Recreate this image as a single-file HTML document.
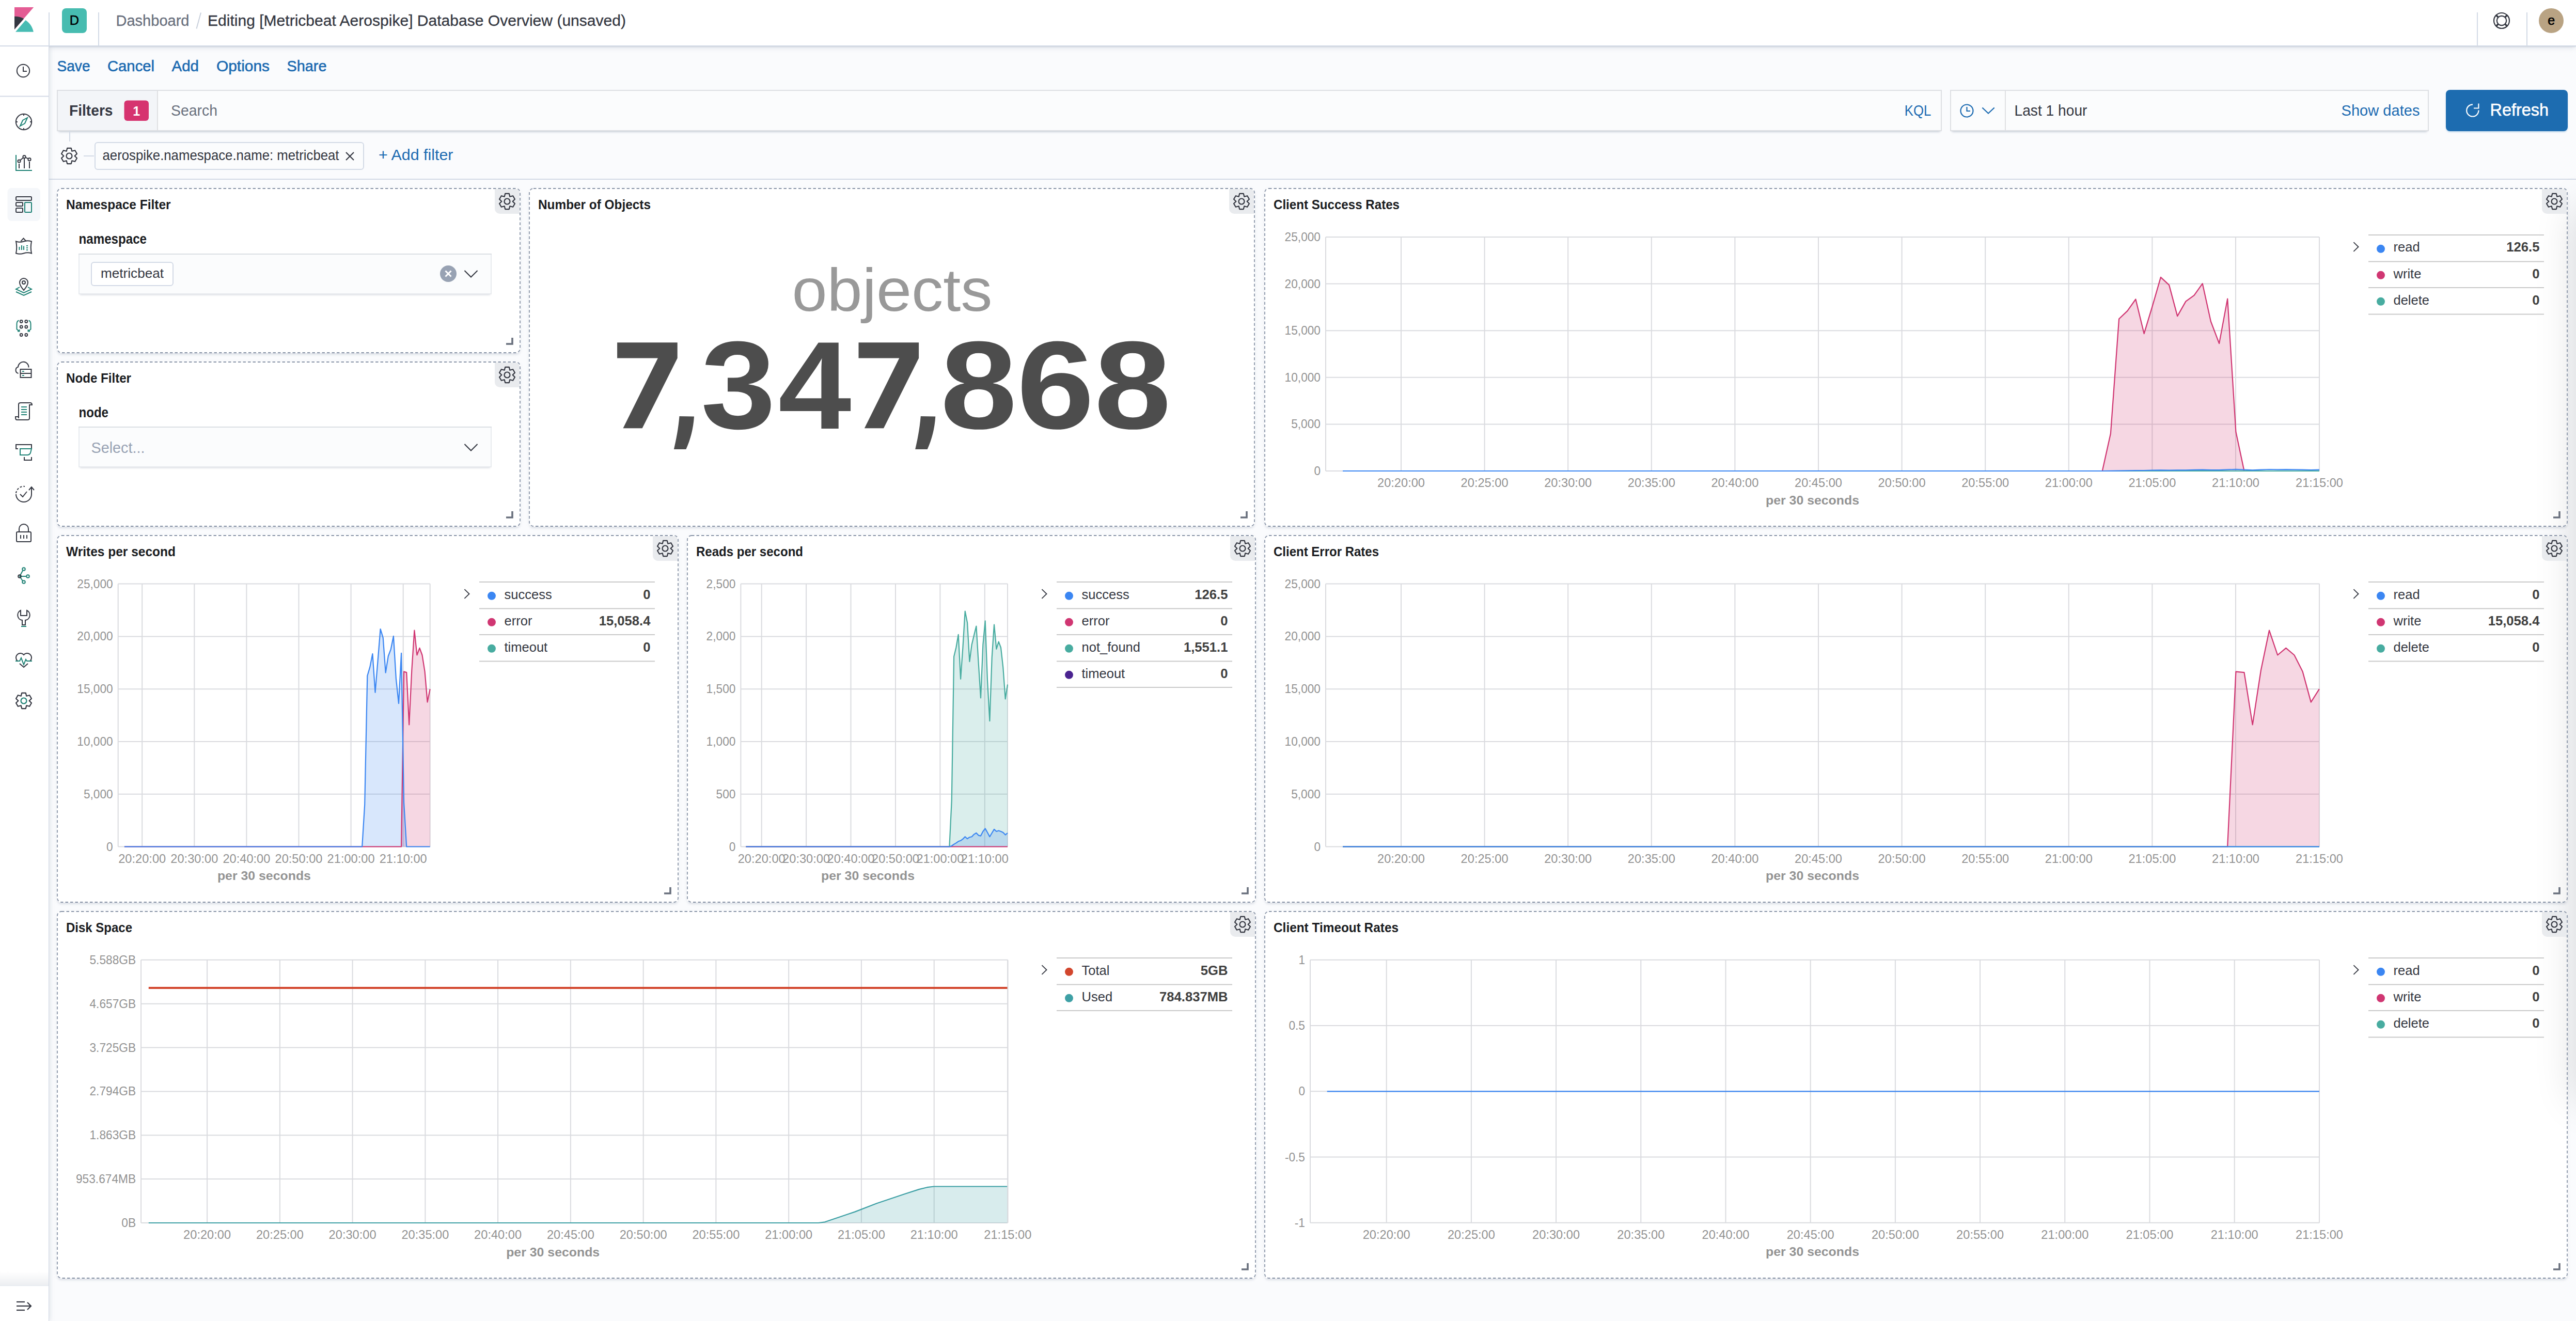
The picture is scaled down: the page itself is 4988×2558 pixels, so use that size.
<!DOCTYPE html>
<html><head><meta charset="utf-8"><title>Kibana Dashboard</title>
<style>
html,body{margin:0;padding:0;}
body{width:4988px;height:2558px;overflow:hidden;position:relative;background:#FAFBFD;font-family:"Liberation Sans", sans-serif;}
svg text{font-family:"Liberation Sans", sans-serif;}
</style></head><body>
<div style="position:absolute;left:0px;top:0px;width:4988px;height:88px;background:#fff;border-bottom:2px solid #D3DAE6;box-shadow:0 2px 2px -1px rgba(152,162,179,0.35),0 4px 10px -2px rgba(152,162,179,0.3);z-index:2"></div><div style="position:absolute;left:0px;top:90px;width:94px;height:2468px;background:#fff;border-right:1px solid #D3DAE6;box-shadow:2px 0 8px rgba(152,162,179,0.25);z-index:3;clip-path:inset(0 -30px 0 0)"></div><div style="position:absolute;left:95px;top:346px;width:4893px;height:2px;background:#D3DAE6"></div><div style="position:absolute;left:110px;top:174px;width:3650px;height:80px;background:#FBFCFD;box-shadow:inset 0 0 0 2px rgba(10,15,40,0.12),0 2px 2px -2px rgba(152,162,179,0.4),0 6px 4px -4px rgba(152,162,179,0.4)"></div><div style="position:absolute;left:112px;top:176px;width:192px;height:76px;background:#F3F5F8;border-right:2px solid #DFE0E3"></div><div style="position:absolute;left:3776px;top:174px;width:927px;height:80px;background:#FBFCFD;box-shadow:inset 0 0 0 2px rgba(10,15,40,0.12),0 2px 2px -2px rgba(152,162,179,0.4),0 6px 4px -4px rgba(152,162,179,0.4)"></div><div style="position:absolute;left:3778px;top:176px;width:104px;height:76px;background:#FBFCFD;border-right:2px solid #DFE0E3"></div><div style="position:absolute;left:4736px;top:174px;width:236px;height:80px;background:#1D6CB0;border-radius:8px;box-shadow:0 2px 3px rgba(0,107,180,0.2)"></div><div style="position:absolute;left:183px;top:275px;width:522px;height:54px;background:#FBFCFD;border:2px solid #D3DAE6;border-radius:6px;box-sizing:border-box"></div><div style="position:absolute;left:110px;top:364px;width:898px;height:320px;background:#fff;border-radius:8px;box-shadow:0 4px 4px -2px rgba(152,162,179,0.3),0 2px 10px -4px rgba(152,162,179,0.3)"></div><div style="position:absolute;left:110px;top:700px;width:898px;height:320px;background:#fff;border-radius:8px;box-shadow:0 4px 4px -2px rgba(152,162,179,0.3),0 2px 10px -4px rgba(152,162,179,0.3)"></div><div style="position:absolute;left:1024px;top:364px;width:1406px;height:656px;background:#fff;border-radius:8px;box-shadow:0 4px 4px -2px rgba(152,162,179,0.3),0 2px 10px -4px rgba(152,162,179,0.3)"></div><div style="position:absolute;left:2448px;top:364px;width:2524px;height:656px;background:#fff;border-radius:8px;box-shadow:0 4px 4px -2px rgba(152,162,179,0.3),0 2px 10px -4px rgba(152,162,179,0.3)"></div><div style="position:absolute;left:110px;top:1036px;width:1204px;height:712px;background:#fff;border-radius:8px;box-shadow:0 4px 4px -2px rgba(152,162,179,0.3),0 2px 10px -4px rgba(152,162,179,0.3)"></div><div style="position:absolute;left:1330px;top:1036px;width:1102px;height:712px;background:#fff;border-radius:8px;box-shadow:0 4px 4px -2px rgba(152,162,179,0.3),0 2px 10px -4px rgba(152,162,179,0.3)"></div><div style="position:absolute;left:2448px;top:1036px;width:2524px;height:712px;background:#fff;border-radius:8px;box-shadow:0 4px 4px -2px rgba(152,162,179,0.3),0 2px 10px -4px rgba(152,162,179,0.3)"></div><div style="position:absolute;left:110px;top:1764px;width:2322px;height:712px;background:#fff;border-radius:8px;box-shadow:0 4px 4px -2px rgba(152,162,179,0.3),0 2px 10px -4px rgba(152,162,179,0.3)"></div><div style="position:absolute;left:2448px;top:1764px;width:2524px;height:712px;background:#fff;border-radius:8px;box-shadow:0 4px 4px -2px rgba(152,162,179,0.3),0 2px 10px -4px rgba(152,162,179,0.3)"></div><div style="position:absolute;left:152px;top:491px;width:800px;height:79px;background:#FBFCFD;box-shadow:inset 0 2px 0 0 rgba(15,35,75,0.06),inset 0 0 0 2px rgba(15,35,75,0.08),0 4px 3px -3px rgba(152,162,179,0.45)"></div><div style="position:absolute;left:176px;top:507px;width:160px;height:47px;background:#fff;border:2px solid #D3DAE6;border-radius:6px;box-sizing:border-box;z-index:3"></div><div style="position:absolute;left:152px;top:826px;width:800px;height:79px;background:#FBFCFD;box-shadow:inset 0 2px 0 0 rgba(15,35,75,0.06),inset 0 0 0 2px rgba(15,35,75,0.08),0 4px 3px -3px rgba(152,162,179,0.45)"></div><div style="position:absolute;left:0px;top:2462px;width:94px;height:27px;background:linear-gradient(to bottom, rgba(152,162,179,0), rgba(152,162,179,0.18));z-index:3"></div><div style="position:absolute;left:4988px;top:405px;width:200px;height:1725px;box-shadow:0 0 80px rgba(0,0,0,0.15);z-index:5"></div>
<svg width="4988" height="2558" viewBox="0 0 4988 2558" style="position:absolute;left:0;top:0;z-index:10">
<line x1="95.0" y1="24.0" x2="95.0" y2="88.0" stroke="#D3DAE6" stroke-width="2" />
<line x1="191.0" y1="24.0" x2="191.0" y2="88.0" stroke="#D3DAE6" stroke-width="2" />
<line x1="4797.0" y1="24.0" x2="4797.0" y2="88.0" stroke="#D3DAE6" stroke-width="2" />
<line x1="4893.0" y1="24.0" x2="4893.0" y2="88.0" stroke="#D3DAE6" stroke-width="2" />
<path d="M28,14 L65.2,14 L28,57 Z" fill="#E45C94"/>
<path d="M28,31.8 C35,31.8 41,33.2 46.2,36.2 L28,57 Z" fill="#343741"/>
<path d="M30,61.8 L49.6,39 C57.5,44.5 63,52 64.8,61.8 Z" fill="#47BCB3"/>
<rect x="120.0" y="16.0" width="48.0" height="48.0" rx="8" fill="#47BCB0" />
<text x="144.0" y="47.8" font-size="25.3" fill="#000" text-anchor="middle" stroke="#000" stroke-width="0.5">D</text>
<text x="224.5" y="49.6" font-size="30.3" fill="#69707D" textLength="142.0" lengthAdjust="spacingAndGlyphs" stroke="#69707D" stroke-width="0.3">Dashboard</text>
<line x1="389.0" y1="24.5" x2="380.5" y2="55.5" stroke="#C9D0DC" stroke-width="2" />
<text x="402.0" y="49.6" font-size="30.3" fill="#343741" textLength="810.0" lengthAdjust="spacingAndGlyphs" stroke="#343741" stroke-width="0.3">Editing [Metricbeat Aerospike] Database Overview (unsaved)</text>
<g transform="translate(4844,40)" fill="none" stroke="#343741" stroke-width="2.2"><circle r="15"/><circle r="9.2"/><g stroke-width="3.4"><line x1="-10.6" y1="-10.6" x2="-6.5" y2="-6.5"/><line x1="10.6" y1="-10.6" x2="6.5" y2="-6.5"/><line x1="-10.6" y1="10.6" x2="-6.5" y2="6.5"/><line x1="10.6" y1="10.6" x2="6.5" y2="6.5"/></g></g>
<circle cx="4940" cy="40" r="24" fill="#B9A383"/>
<text x="4940.3" y="47.8" font-size="25" fill="#000" text-anchor="middle" stroke="#000" stroke-width="0.7">e</text>
<text x="110.5" y="137.5" font-size="30" fill="#1B6AB1" textLength="64.0" lengthAdjust="spacingAndGlyphs" stroke="#1B6AB1" stroke-width="0.6">Save</text>
<text x="208.0" y="137.5" font-size="30" fill="#1B6AB1" textLength="91.0" lengthAdjust="spacingAndGlyphs" stroke="#1B6AB1" stroke-width="0.6">Cancel</text>
<text x="332.5" y="137.5" font-size="30" fill="#1B6AB1" textLength="52.5" lengthAdjust="spacingAndGlyphs" stroke="#1B6AB1" stroke-width="0.6">Add</text>
<text x="419.0" y="137.5" font-size="30" fill="#1B6AB1" textLength="103.0" lengthAdjust="spacingAndGlyphs" stroke="#1B6AB1" stroke-width="0.6">Options</text>
<text x="555.5" y="137.5" font-size="30" fill="#1B6AB1" textLength="77.0" lengthAdjust="spacingAndGlyphs" stroke="#1B6AB1" stroke-width="0.6">Share</text>
<text x="134.0" y="223.9" font-size="29.9" fill="#343741" font-weight="bold" textLength="84.5" lengthAdjust="spacingAndGlyphs">Filters</text>
<rect x="240.5" y="194.5" width="47.5" height="39.5" rx="6" fill="#D6336F" />
<text x="264.2" y="224.0" font-size="25" fill="#fff" font-weight="bold" text-anchor="middle">1</text>
<text x="331.0" y="223.9" font-size="29.9" fill="#69707D" textLength="90.0" lengthAdjust="spacingAndGlyphs">Search</text>
<text x="3687.8" y="223.9" font-size="29.9" fill="#1B6AB1" textLength="51.5" lengthAdjust="spacingAndGlyphs">KQL</text>
<g fill="none" stroke="#1B6AB1" stroke-width="2.2"><circle cx="3808.5" cy="214.5" r="12"/><polyline points="3808.5,207 3808.5,215 3815,215"/><polyline points="3838.4,208.5 3850,219.5 3861.7,208.5"/></g>
<text x="3900.5" y="223.9" font-size="29.9" fill="#343741" textLength="141.0" lengthAdjust="spacingAndGlyphs">Last 1 hour</text>
<text x="4685.5" y="223.9" font-size="29.9" fill="#1B6AB1" text-anchor="end" textLength="152.0" lengthAdjust="spacingAndGlyphs">Show dates</text>
<g fill="none" stroke="#fff" stroke-width="2.2"><path d="M4788,202.3 A11.6,11.6 0 1,0 4799.4,213.5"/><polyline points="4790,209.5 4799.4,209.5 4799.4,200.4"/></g>
<text x="4821.5" y="223.8" font-size="33.7" fill="#fff" textLength="113.5" lengthAdjust="spacingAndGlyphs" stroke="#fff" stroke-width="0.6">Refresh</text>
<line x1="135.0" y1="253.0" x2="135.0" y2="274.0" stroke="#D3DAE6" stroke-width="2" />
<line x1="162.0" y1="302.0" x2="182.0" y2="302.0" stroke="#D3DAE6" stroke-width="2" />
<path d="M130.2,286.9 L137.8,286.9 L139.3,292.8 L145.2,291.2 L149.0,297.7 L144.6,302.0 L149.0,306.3 L145.2,312.8 L139.3,311.2 L137.8,317.1 L130.2,317.1 L128.7,311.2 L122.8,312.8 L119.0,306.3 L123.4,302.0 L119.0,297.7 L122.8,291.2 L128.7,292.8 Z" fill="none" stroke="#343741" stroke-width="2.2" stroke-linejoin="round"/>
<circle cx="134" cy="302" r="5.5" fill="none" stroke="#343741" stroke-width="2.2"/>
<text x="198.5" y="310.0" font-size="28" fill="#343741" textLength="458.0" lengthAdjust="spacingAndGlyphs">aerospike.namespace.name: metricbeat</text>
<g stroke="#343741" stroke-width="2.2"><line x1="670" y1="295" x2="685" y2="310"/><line x1="685" y1="295" x2="670" y2="310"/></g>
<text x="733.0" y="309.8" font-size="29.9" fill="#1B6AB1" textLength="144.5" lengthAdjust="spacingAndGlyphs">+ Add filter</text>
<rect x="111" y="365" width="896" height="318" rx="8" fill="none" stroke="#8A95A8" stroke-width="1.8" stroke-dasharray="5.5 4"/>
<path d="M958,366 H998 A8,8 0 0 1 1006,374 V414 H968 A10,10 0 0 1 958,404 Z" fill="#E9EBEE"/>
<path d="M978.2,374.9 L985.8,374.9 L987.3,380.8 L993.2,379.2 L997.0,385.7 L992.6,390.0 L997.0,394.3 L993.2,400.8 L987.3,399.2 L985.8,405.1 L978.2,405.1 L976.7,399.2 L970.8,400.8 L967.0,394.3 L971.4,390.0 L967.0,385.7 L970.8,379.2 L976.7,380.8 Z" fill="none" stroke="#343741" stroke-width="2.2" stroke-linejoin="round"/>
<circle cx="982" cy="390" r="5.5" fill="none" stroke="#343741" stroke-width="2.2"/>
<text x="128.0" y="404.5" font-size="26.7" fill="#1A1C21" font-weight="bold" textLength="202.5" lengthAdjust="spacingAndGlyphs">Namespace Filter</text>
<path d="M980,666 H992 V654" fill="none" stroke="#69707D" stroke-width="3.6"/>
<rect x="111" y="701" width="896" height="318" rx="8" fill="none" stroke="#8A95A8" stroke-width="1.8" stroke-dasharray="5.5 4"/>
<path d="M958,702 H998 A8,8 0 0 1 1006,710 V750 H968 A10,10 0 0 1 958,740 Z" fill="#E9EBEE"/>
<path d="M978.2,710.9 L985.8,710.9 L987.3,716.8 L993.2,715.2 L997.0,721.7 L992.6,726.0 L997.0,730.3 L993.2,736.8 L987.3,735.2 L985.8,741.1 L978.2,741.1 L976.7,735.2 L970.8,736.8 L967.0,730.3 L971.4,726.0 L967.0,721.7 L970.8,715.2 L976.7,716.8 Z" fill="none" stroke="#343741" stroke-width="2.2" stroke-linejoin="round"/>
<circle cx="982" cy="726" r="5.5" fill="none" stroke="#343741" stroke-width="2.2"/>
<text x="128.0" y="740.5" font-size="26.7" fill="#1A1C21" font-weight="bold" textLength="126.0" lengthAdjust="spacingAndGlyphs">Node Filter</text>
<path d="M980,1002 H992 V990" fill="none" stroke="#69707D" stroke-width="3.6"/>
<rect x="1025" y="365" width="1404" height="654" rx="8" fill="none" stroke="#8A95A8" stroke-width="1.8" stroke-dasharray="5.5 4"/>
<path d="M2380,366 H2420 A8,8 0 0 1 2428,374 V414 H2390 A10,10 0 0 1 2380,404 Z" fill="#E9EBEE"/>
<path d="M2400.2,374.9 L2407.8,374.9 L2409.3,380.8 L2415.2,379.2 L2419.0,385.7 L2414.6,390.0 L2419.0,394.3 L2415.2,400.8 L2409.3,399.2 L2407.8,405.1 L2400.2,405.1 L2398.7,399.2 L2392.8,400.8 L2389.0,394.3 L2393.4,390.0 L2389.0,385.7 L2392.8,379.2 L2398.7,380.8 Z" fill="none" stroke="#343741" stroke-width="2.2" stroke-linejoin="round"/>
<circle cx="2404" cy="390" r="5.5" fill="none" stroke="#343741" stroke-width="2.2"/>
<text x="1042.0" y="404.5" font-size="26.7" fill="#1A1C21" font-weight="bold" textLength="218.0" lengthAdjust="spacingAndGlyphs">Number of Objects</text>
<path d="M2402,1002 H2414 V990" fill="none" stroke="#69707D" stroke-width="3.6"/>
<rect x="2449" y="365" width="2522" height="654" rx="8" fill="none" stroke="#8A95A8" stroke-width="1.8" stroke-dasharray="5.5 4"/>
<path d="M4922,366 H4962 A8,8 0 0 1 4970,374 V414 H4932 A10,10 0 0 1 4922,404 Z" fill="#E9EBEE"/>
<path d="M4942.2,374.9 L4949.8,374.9 L4951.3,380.8 L4957.2,379.2 L4961.0,385.7 L4956.6,390.0 L4961.0,394.3 L4957.2,400.8 L4951.3,399.2 L4949.8,405.1 L4942.2,405.1 L4940.7,399.2 L4934.8,400.8 L4931.0,394.3 L4935.4,390.0 L4931.0,385.7 L4934.8,379.2 L4940.7,380.8 Z" fill="none" stroke="#343741" stroke-width="2.2" stroke-linejoin="round"/>
<circle cx="4946" cy="390" r="5.5" fill="none" stroke="#343741" stroke-width="2.2"/>
<text x="2466.0" y="404.5" font-size="26.7" fill="#1A1C21" font-weight="bold" textLength="244.0" lengthAdjust="spacingAndGlyphs">Client Success Rates</text>
<path d="M4944,1002 H4956 V990" fill="none" stroke="#69707D" stroke-width="3.6"/>
<rect x="111" y="1037" width="1202" height="710" rx="8" fill="none" stroke="#8A95A8" stroke-width="1.8" stroke-dasharray="5.5 4"/>
<path d="M1264,1038 H1304 A8,8 0 0 1 1312,1046 V1086 H1274 A10,10 0 0 1 1264,1076 Z" fill="#E9EBEE"/>
<path d="M1284.2,1046.9 L1291.8,1046.9 L1293.3,1052.8 L1299.2,1051.2 L1303.0,1057.7 L1298.6,1062.0 L1303.0,1066.3 L1299.2,1072.8 L1293.3,1071.2 L1291.8,1077.1 L1284.2,1077.1 L1282.7,1071.2 L1276.8,1072.8 L1273.0,1066.3 L1277.4,1062.0 L1273.0,1057.7 L1276.8,1051.2 L1282.7,1052.8 Z" fill="none" stroke="#343741" stroke-width="2.2" stroke-linejoin="round"/>
<circle cx="1288" cy="1062" r="5.5" fill="none" stroke="#343741" stroke-width="2.2"/>
<text x="128.0" y="1076.5" font-size="26.7" fill="#1A1C21" font-weight="bold" textLength="212.0" lengthAdjust="spacingAndGlyphs">Writes per second</text>
<path d="M1286,1730 H1298 V1718" fill="none" stroke="#69707D" stroke-width="3.6"/>
<rect x="1331" y="1037" width="1100" height="710" rx="8" fill="none" stroke="#8A95A8" stroke-width="1.8" stroke-dasharray="5.5 4"/>
<path d="M2382,1038 H2422 A8,8 0 0 1 2430,1046 V1086 H2392 A10,10 0 0 1 2382,1076 Z" fill="#E9EBEE"/>
<path d="M2402.2,1046.9 L2409.8,1046.9 L2411.3,1052.8 L2417.2,1051.2 L2421.0,1057.7 L2416.6,1062.0 L2421.0,1066.3 L2417.2,1072.8 L2411.3,1071.2 L2409.8,1077.1 L2402.2,1077.1 L2400.7,1071.2 L2394.8,1072.8 L2391.0,1066.3 L2395.4,1062.0 L2391.0,1057.7 L2394.8,1051.2 L2400.7,1052.8 Z" fill="none" stroke="#343741" stroke-width="2.2" stroke-linejoin="round"/>
<circle cx="2406" cy="1062" r="5.5" fill="none" stroke="#343741" stroke-width="2.2"/>
<text x="1348.0" y="1076.5" font-size="26.7" fill="#1A1C21" font-weight="bold" textLength="207.0" lengthAdjust="spacingAndGlyphs">Reads per second</text>
<path d="M2404,1730 H2416 V1718" fill="none" stroke="#69707D" stroke-width="3.6"/>
<rect x="2449" y="1037" width="2522" height="710" rx="8" fill="none" stroke="#8A95A8" stroke-width="1.8" stroke-dasharray="5.5 4"/>
<path d="M4922,1038 H4962 A8,8 0 0 1 4970,1046 V1086 H4932 A10,10 0 0 1 4922,1076 Z" fill="#E9EBEE"/>
<path d="M4942.2,1046.9 L4949.8,1046.9 L4951.3,1052.8 L4957.2,1051.2 L4961.0,1057.7 L4956.6,1062.0 L4961.0,1066.3 L4957.2,1072.8 L4951.3,1071.2 L4949.8,1077.1 L4942.2,1077.1 L4940.7,1071.2 L4934.8,1072.8 L4931.0,1066.3 L4935.4,1062.0 L4931.0,1057.7 L4934.8,1051.2 L4940.7,1052.8 Z" fill="none" stroke="#343741" stroke-width="2.2" stroke-linejoin="round"/>
<circle cx="4946" cy="1062" r="5.5" fill="none" stroke="#343741" stroke-width="2.2"/>
<text x="2466.0" y="1076.5" font-size="26.7" fill="#1A1C21" font-weight="bold" textLength="204.0" lengthAdjust="spacingAndGlyphs">Client Error Rates</text>
<path d="M4944,1730 H4956 V1718" fill="none" stroke="#69707D" stroke-width="3.6"/>
<rect x="111" y="1765" width="2320" height="710" rx="8" fill="none" stroke="#8A95A8" stroke-width="1.8" stroke-dasharray="5.5 4"/>
<path d="M2382,1766 H2422 A8,8 0 0 1 2430,1774 V1814 H2392 A10,10 0 0 1 2382,1804 Z" fill="#E9EBEE"/>
<path d="M2402.2,1774.9 L2409.8,1774.9 L2411.3,1780.8 L2417.2,1779.2 L2421.0,1785.7 L2416.6,1790.0 L2421.0,1794.3 L2417.2,1800.8 L2411.3,1799.2 L2409.8,1805.1 L2402.2,1805.1 L2400.7,1799.2 L2394.8,1800.8 L2391.0,1794.3 L2395.4,1790.0 L2391.0,1785.7 L2394.8,1779.2 L2400.7,1780.8 Z" fill="none" stroke="#343741" stroke-width="2.2" stroke-linejoin="round"/>
<circle cx="2406" cy="1790" r="5.5" fill="none" stroke="#343741" stroke-width="2.2"/>
<text x="128.0" y="1804.5" font-size="26.7" fill="#1A1C21" font-weight="bold" textLength="128.0" lengthAdjust="spacingAndGlyphs">Disk Space</text>
<path d="M2404,2458 H2416 V2446" fill="none" stroke="#69707D" stroke-width="3.6"/>
<rect x="2449" y="1765" width="2522" height="710" rx="8" fill="none" stroke="#8A95A8" stroke-width="1.8" stroke-dasharray="5.5 4"/>
<path d="M4922,1766 H4962 A8,8 0 0 1 4970,1774 V1814 H4932 A10,10 0 0 1 4922,1804 Z" fill="#E9EBEE"/>
<path d="M4942.2,1774.9 L4949.8,1774.9 L4951.3,1780.8 L4957.2,1779.2 L4961.0,1785.7 L4956.6,1790.0 L4961.0,1794.3 L4957.2,1800.8 L4951.3,1799.2 L4949.8,1805.1 L4942.2,1805.1 L4940.7,1799.2 L4934.8,1800.8 L4931.0,1794.3 L4935.4,1790.0 L4931.0,1785.7 L4934.8,1779.2 L4940.7,1780.8 Z" fill="none" stroke="#343741" stroke-width="2.2" stroke-linejoin="round"/>
<circle cx="4946" cy="1790" r="5.5" fill="none" stroke="#343741" stroke-width="2.2"/>
<text x="2466.0" y="1804.5" font-size="26.7" fill="#1A1C21" font-weight="bold" textLength="242.0" lengthAdjust="spacingAndGlyphs">Client Timeout Rates</text>
<path d="M4944,2458 H4956 V2446" fill="none" stroke="#69707D" stroke-width="3.6"/>
<text x="152.5" y="472.0" font-size="27" fill="#1A1C21" font-weight="bold" textLength="131.5" lengthAdjust="spacingAndGlyphs">namespace</text>
<text x="195.0" y="538.0" font-size="26" fill="#343741" textLength="122.0" lengthAdjust="spacingAndGlyphs">metricbeat</text>
<circle cx="868" cy="530" r="16" fill="#98A2B3"/>
<g stroke="#fff" stroke-width="3"><line x1="862.5" y1="524.5" x2="873.5" y2="535.5"/><line x1="873.5" y1="524.5" x2="862.5" y2="535.5"/></g>
<polyline points="899.5,524.0 912.0,536.5 924.5,524.0" fill="none" stroke="#343741" stroke-width="2.1"/>
<text x="152.5" y="808.0" font-size="27" fill="#1A1C21" font-weight="bold" textLength="57.5" lengthAdjust="spacingAndGlyphs">node</text>
<text x="176.5" y="876.5" font-size="29" fill="#98A2B3" textLength="104.0" lengthAdjust="spacingAndGlyphs">Select...</text>
<polyline points="899.5,860.0 912.0,872.5 924.5,860.0" fill="none" stroke="#343741" stroke-width="2.1"/>
<text x="1727.5" y="602.3" font-size="116" fill="#999999" text-anchor="middle" textLength="388.0" lengthAdjust="spacingAndGlyphs">objects</text>
<text transform="translate(1357.1,829.5) scale(1.0752,1)" font-size="242" font-weight="bold" fill="#4D4D4D">3</text>
<text transform="translate(1507.0,829.5) scale(1.0509,1)" font-size="242" font-weight="bold" fill="#4D4D4D">4</text>
<text transform="translate(1821.0,829.5) scale(1.1007,1)" font-size="242" font-weight="bold" fill="#4D4D4D">8</text>
<text transform="translate(1968.7,829.5) scale(1.1150,1)" font-size="242" font-weight="bold" fill="#4D4D4D">6</text>
<text transform="translate(2118.9,829.5) scale(1.1041,1)" font-size="242" font-weight="bold" fill="#4D4D4D">8</text>
<path transform="translate(0,0)" d="M1195.1,663.2 L1311.7,663.2 L1311.7,693.5 L1243.6,829.3 L1206.5,829.3 L1273.9,693.5 L1195.1,693.5 Z" fill="#4D4D4D"/>
<path transform="translate(467.4,0)" d="M1195.1,663.2 L1311.7,663.2 L1311.7,693.5 L1243.6,829.3 L1206.5,829.3 L1273.9,693.5 L1195.1,693.5 Z" fill="#4D4D4D"/>
<path transform="translate(0,0)" d="M1315.5,806 L1344,806.5 C1342.5,830 1337,851 1328.4,870.1 L1304.9,870.1 C1309.5,850 1313.5,830 1315.5,806 Z" fill="#4D4D4D"/>
<path transform="translate(467.3,0)" d="M1315.5,806 L1344,806.5 C1342.5,830 1337,851 1328.4,870.1 L1304.9,870.1 C1309.5,850 1313.5,830 1315.5,806 Z" fill="#4D4D4D"/>
<line x1="2567.0" y1="459.0" x2="4491.0" y2="459.0" stroke="#DADBDF" stroke-width="2" />
<line x1="2567.0" y1="549.6" x2="4491.0" y2="549.6" stroke="#DADBDF" stroke-width="2" />
<line x1="2567.0" y1="640.2" x2="4491.0" y2="640.2" stroke="#DADBDF" stroke-width="2" />
<line x1="2567.0" y1="730.8" x2="4491.0" y2="730.8" stroke="#DADBDF" stroke-width="2" />
<line x1="2567.0" y1="821.4" x2="4491.0" y2="821.4" stroke="#DADBDF" stroke-width="2" />
<line x1="2567.0" y1="912.0" x2="4491.0" y2="912.0" stroke="#DADBDF" stroke-width="2" />
<line x1="2713.0" y1="459.0" x2="2713.0" y2="912.0" stroke="#DADBDF" stroke-width="2" />
<line x1="2874.6" y1="459.0" x2="2874.6" y2="912.0" stroke="#DADBDF" stroke-width="2" />
<line x1="3036.2" y1="459.0" x2="3036.2" y2="912.0" stroke="#DADBDF" stroke-width="2" />
<line x1="3197.8" y1="459.0" x2="3197.8" y2="912.0" stroke="#DADBDF" stroke-width="2" />
<line x1="3359.4" y1="459.0" x2="3359.4" y2="912.0" stroke="#DADBDF" stroke-width="2" />
<line x1="3521.0" y1="459.0" x2="3521.0" y2="912.0" stroke="#DADBDF" stroke-width="2" />
<line x1="3682.6" y1="459.0" x2="3682.6" y2="912.0" stroke="#DADBDF" stroke-width="2" />
<line x1="3844.2" y1="459.0" x2="3844.2" y2="912.0" stroke="#DADBDF" stroke-width="2" />
<line x1="4005.8" y1="459.0" x2="4005.8" y2="912.0" stroke="#DADBDF" stroke-width="2" />
<line x1="4167.4" y1="459.0" x2="4167.4" y2="912.0" stroke="#DADBDF" stroke-width="2" />
<line x1="4329.0" y1="459.0" x2="4329.0" y2="912.0" stroke="#DADBDF" stroke-width="2" />
<line x1="4491.0" y1="459.0" x2="4491.0" y2="912.0" stroke="#DADBDF" stroke-width="2" />
<line x1="2567.0" y1="459.0" x2="2567.0" y2="912.0" stroke="#DADBDF" stroke-width="2" />
<line x1="4491.0" y1="459.0" x2="4491.0" y2="912.0" stroke="#DADBDF" stroke-width="2" />
<path d="M2600.0,912.0 L2616.2,912.0 L2632.3,912.0 L2648.5,912.0 L2664.6,912.0 L2680.8,912.0 L2697.0,912.0 L2713.1,912.0 L2729.3,912.0 L2745.5,912.0 L2761.6,912.0 L2777.8,912.0 L2793.9,912.0 L2810.1,912.0 L2826.3,912.0 L2842.4,912.0 L2858.6,912.0 L2874.8,912.0 L2890.9,912.0 L2907.1,912.0 L2923.2,912.0 L2939.4,912.0 L2955.6,912.0 L2971.7,912.0 L2987.9,912.0 L3004.1,912.0 L3020.2,912.0 L3036.4,912.0 L3052.5,912.0 L3068.7,912.0 L3084.9,912.0 L3101.0,912.0 L3117.2,912.0 L3133.4,912.0 L3149.5,912.0 L3165.7,912.0 L3181.8,912.0 L3198.0,912.0 L3214.2,912.0 L3230.3,912.0 L3246.5,912.0 L3262.7,912.0 L3278.8,912.0 L3295.0,912.0 L3311.1,912.0 L3327.3,912.0 L3343.5,912.0 L3359.6,912.0 L3375.8,912.0 L3392.0,912.0 L3408.1,912.0 L3424.3,912.0 L3440.4,912.0 L3456.6,912.0 L3472.8,912.0 L3488.9,912.0 L3505.1,912.0 L3521.3,912.0 L3537.4,912.0 L3553.6,912.0 L3569.7,912.0 L3585.9,912.0 L3602.1,912.0 L3618.2,912.0 L3634.4,912.0 L3650.6,912.0 L3666.7,912.0 L3682.9,912.0 L3699.0,912.0 L3715.2,912.0 L3731.4,912.0 L3747.5,912.0 L3763.7,912.0 L3779.9,912.0 L3796.0,912.0 L3812.2,912.0 L3828.3,912.0 L3844.5,912.0 L3860.7,912.0 L3876.8,912.0 L3893.0,912.0 L3909.2,912.0 L3925.3,912.0 L3941.5,912.0 L3957.6,912.0 L3973.8,912.0 L3990.0,912.0 L4006.1,912.0 L4022.3,912.0 L4038.5,912.0 L4054.6,912.0 L4070.8,912.0 L4086.9,839.5 L4103.1,617.5 L4119.3,602.1 L4135.4,579.5 L4151.6,646.1 L4167.8,592.6 L4183.9,536.9 L4200.1,551.9 L4216.2,612.1 L4232.4,583.6 L4248.6,571.8 L4264.7,549.1 L4280.9,622.5 L4297.1,665.1 L4313.2,578.6 L4329.4,836.3 L4345.5,912.0 L4361.7,912.0 L4377.9,912.0 L4394.0,912.0 L4410.2,912.0 L4426.4,912.0 L4442.5,912.0 L4458.7,912.0 L4474.8,912.0 L4491.0,912.0 L4491.0,912.0 L2600.0,912.0 Z" fill="#D03672" fill-opacity="0.2"/>
<path d="M2600.0,912.0 L2616.2,912.0 L2632.3,912.0 L2648.5,912.0 L2664.6,912.0 L2680.8,912.0 L2697.0,912.0 L2713.1,912.0 L2729.3,912.0 L2745.5,912.0 L2761.6,912.0 L2777.8,912.0 L2793.9,912.0 L2810.1,912.0 L2826.3,912.0 L2842.4,912.0 L2858.6,912.0 L2874.8,912.0 L2890.9,912.0 L2907.1,912.0 L2923.2,912.0 L2939.4,912.0 L2955.6,912.0 L2971.7,912.0 L2987.9,912.0 L3004.1,912.0 L3020.2,912.0 L3036.4,912.0 L3052.5,912.0 L3068.7,912.0 L3084.9,912.0 L3101.0,912.0 L3117.2,912.0 L3133.4,912.0 L3149.5,912.0 L3165.7,912.0 L3181.8,912.0 L3198.0,912.0 L3214.2,912.0 L3230.3,912.0 L3246.5,912.0 L3262.7,912.0 L3278.8,912.0 L3295.0,912.0 L3311.1,912.0 L3327.3,912.0 L3343.5,912.0 L3359.6,912.0 L3375.8,912.0 L3392.0,912.0 L3408.1,912.0 L3424.3,912.0 L3440.4,912.0 L3456.6,912.0 L3472.8,912.0 L3488.9,912.0 L3505.1,912.0 L3521.3,912.0 L3537.4,912.0 L3553.6,912.0 L3569.7,912.0 L3585.9,912.0 L3602.1,912.0 L3618.2,912.0 L3634.4,912.0 L3650.6,912.0 L3666.7,912.0 L3682.9,912.0 L3699.0,912.0 L3715.2,912.0 L3731.4,912.0 L3747.5,912.0 L3763.7,912.0 L3779.9,912.0 L3796.0,912.0 L3812.2,912.0 L3828.3,912.0 L3844.5,912.0 L3860.7,912.0 L3876.8,912.0 L3893.0,912.0 L3909.2,912.0 L3925.3,912.0 L3941.5,912.0 L3957.6,912.0 L3973.8,912.0 L3990.0,912.0 L4006.1,912.0 L4022.3,912.0 L4038.5,912.0 L4054.6,912.0 L4070.8,912.0 L4086.9,839.5 L4103.1,617.5 L4119.3,602.1 L4135.4,579.5 L4151.6,646.1 L4167.8,592.6 L4183.9,536.9 L4200.1,551.9 L4216.2,612.1 L4232.4,583.6 L4248.6,571.8 L4264.7,549.1 L4280.9,622.5 L4297.1,665.1 L4313.2,578.6 L4329.4,836.3 L4345.5,912.0 L4361.7,912.0 L4377.9,912.0 L4394.0,912.0 L4410.2,912.0 L4426.4,912.0 L4442.5,912.0 L4458.7,912.0 L4474.8,912.0 L4491.0,912.0" fill="none" stroke="#D03672" stroke-width="2.2" stroke-linejoin="round"/>
<path d="M2600.0,912.0 L2616.2,912.0 L2632.3,912.0 L2648.5,912.0 L2664.6,912.0 L2680.8,912.0 L2697.0,912.0 L2713.1,912.0 L2729.3,912.0 L2745.5,912.0 L2761.6,912.0 L2777.8,912.0 L2793.9,912.0 L2810.1,912.0 L2826.3,912.0 L2842.4,912.0 L2858.6,912.0 L2874.8,912.0 L2890.9,912.0 L2907.1,912.0 L2923.2,912.0 L2939.4,912.0 L2955.6,912.0 L2971.7,912.0 L2987.9,912.0 L3004.1,912.0 L3020.2,912.0 L3036.4,912.0 L3052.5,912.0 L3068.7,912.0 L3084.9,912.0 L3101.0,912.0 L3117.2,912.0 L3133.4,912.0 L3149.5,912.0 L3165.7,912.0 L3181.8,912.0 L3198.0,912.0 L3214.2,912.0 L3230.3,912.0 L3246.5,912.0 L3262.7,912.0 L3278.8,912.0 L3295.0,912.0 L3311.1,912.0 L3327.3,912.0 L3343.5,912.0 L3359.6,912.0 L3375.8,912.0 L3392.0,912.0 L3408.1,912.0 L3424.3,912.0 L3440.4,912.0 L3456.6,912.0 L3472.8,912.0 L3488.9,912.0 L3505.1,912.0 L3521.3,912.0 L3537.4,912.0 L3553.6,912.0 L3569.7,912.0 L3585.9,912.0 L3602.1,912.0 L3618.2,912.0 L3634.4,912.0 L3650.6,912.0 L3666.7,912.0 L3682.9,912.0 L3699.0,912.0 L3715.2,912.0 L3731.4,912.0 L3747.5,912.0 L3763.7,912.0 L3779.9,912.0 L3796.0,912.0 L3812.2,912.0 L3828.3,912.0 L3844.5,912.0 L3860.7,912.0 L3876.8,912.0 L3893.0,912.0 L3909.2,912.0 L3925.3,912.0 L3941.5,912.0 L3957.6,912.0 L3973.8,912.0 L3990.0,912.0 L4006.1,912.0 L4022.3,912.0 L4038.5,912.0 L4054.6,912.0 L4070.8,912.0 L4086.9,912.0 L4103.1,912.0 L4119.3,912.0 L4135.4,912.0 L4151.6,912.0 L4167.8,912.0 L4183.9,912.0 L4200.1,912.0 L4216.2,912.0 L4232.4,912.0 L4248.6,912.0 L4264.7,912.0 L4280.9,912.0 L4297.1,912.0 L4313.2,912.0 L4329.4,912.0 L4345.5,912.0 L4361.7,912.0 L4377.9,912.0 L4394.0,912.0 L4410.2,912.0 L4426.4,912.0 L4442.5,912.0 L4458.7,912.0 L4474.8,912.0 L4491.0,912.0" fill="none" stroke="#48ACA0" stroke-width="2.2" stroke-linejoin="round"/>
<path d="M2600.0,912.0 L2616.2,912.0 L2632.3,912.0 L2648.5,912.0 L2664.6,912.0 L2680.8,912.0 L2697.0,912.0 L2713.1,912.0 L2729.3,912.0 L2745.5,912.0 L2761.6,912.0 L2777.8,912.0 L2793.9,912.0 L2810.1,912.0 L2826.3,912.0 L2842.4,912.0 L2858.6,912.0 L2874.8,912.0 L2890.9,912.0 L2907.1,912.0 L2923.2,912.0 L2939.4,912.0 L2955.6,912.0 L2971.7,912.0 L2987.9,912.0 L3004.1,912.0 L3020.2,912.0 L3036.4,912.0 L3052.5,912.0 L3068.7,912.0 L3084.9,912.0 L3101.0,912.0 L3117.2,912.0 L3133.4,912.0 L3149.5,912.0 L3165.7,912.0 L3181.8,912.0 L3198.0,912.0 L3214.2,912.0 L3230.3,912.0 L3246.5,912.0 L3262.7,912.0 L3278.8,912.0 L3295.0,912.0 L3311.1,912.0 L3327.3,912.0 L3343.5,912.0 L3359.6,912.0 L3375.8,912.0 L3392.0,912.0 L3408.1,912.0 L3424.3,912.0 L3440.4,912.0 L3456.6,912.0 L3472.8,912.0 L3488.9,912.0 L3505.1,912.0 L3521.3,912.0 L3537.4,912.0 L3553.6,912.0 L3569.7,912.0 L3585.9,912.0 L3602.1,912.0 L3618.2,912.0 L3634.4,912.0 L3650.6,912.0 L3666.7,912.0 L3682.9,912.0 L3699.0,912.0 L3715.2,912.0 L3731.4,912.0 L3747.5,912.0 L3763.7,912.0 L3779.9,912.0 L3796.0,912.0 L3812.2,912.0 L3828.3,912.0 L3844.5,912.0 L3860.7,912.0 L3876.8,912.0 L3893.0,912.0 L3909.2,912.0 L3925.3,912.0 L3941.5,912.0 L3957.6,912.0 L3973.8,912.0 L3990.0,912.0 L4006.1,912.0 L4022.3,912.0 L4038.5,912.0 L4054.6,912.0 L4070.8,912.0 L4086.9,911.9 L4103.1,911.6 L4119.3,911.4 L4135.4,911.1 L4151.6,911.0 L4167.8,910.7 L4183.9,910.3 L4200.1,910.6 L4216.2,910.4 L4232.4,910.3 L4248.6,909.9 L4264.7,909.6 L4280.9,910.1 L4297.1,910.1 L4313.2,909.4 L4329.4,908.9 L4345.5,909.6 L4361.7,910.3 L4377.9,909.6 L4394.0,909.0 L4410.2,909.4 L4426.4,909.2 L4442.5,909.4 L4458.7,909.6 L4474.8,910.0 L4491.0,909.6" fill="none" stroke="#3B86F2" stroke-width="2.2" stroke-linejoin="round"/>
<text x="2557.0" y="467.0" font-size="24" fill="#939393" text-anchor="end" textLength="69.4" lengthAdjust="spacingAndGlyphs">25,000</text>
<text x="2557.0" y="557.6" font-size="24" fill="#939393" text-anchor="end" textLength="69.4" lengthAdjust="spacingAndGlyphs">20,000</text>
<text x="2557.0" y="648.2" font-size="24" fill="#939393" text-anchor="end" textLength="69.4" lengthAdjust="spacingAndGlyphs">15,000</text>
<text x="2557.0" y="738.8" font-size="24" fill="#939393" text-anchor="end" textLength="69.4" lengthAdjust="spacingAndGlyphs">10,000</text>
<text x="2557.0" y="829.4" font-size="24" fill="#939393" text-anchor="end" textLength="56.8" lengthAdjust="spacingAndGlyphs">5,000</text>
<text x="2557.0" y="920.0" font-size="24" fill="#939393" text-anchor="end" textLength="12.6" lengthAdjust="spacingAndGlyphs">0</text>
<text x="2713.0" y="943.0" font-size="24" fill="#939393" text-anchor="middle" textLength="92.0" lengthAdjust="spacingAndGlyphs">20:20:00</text>
<text x="2874.6" y="943.0" font-size="24" fill="#939393" text-anchor="middle" textLength="92.0" lengthAdjust="spacingAndGlyphs">20:25:00</text>
<text x="3036.2" y="943.0" font-size="24" fill="#939393" text-anchor="middle" textLength="92.0" lengthAdjust="spacingAndGlyphs">20:30:00</text>
<text x="3197.8" y="943.0" font-size="24" fill="#939393" text-anchor="middle" textLength="92.0" lengthAdjust="spacingAndGlyphs">20:35:00</text>
<text x="3359.4" y="943.0" font-size="24" fill="#939393" text-anchor="middle" textLength="92.0" lengthAdjust="spacingAndGlyphs">20:40:00</text>
<text x="3521.0" y="943.0" font-size="24" fill="#939393" text-anchor="middle" textLength="92.0" lengthAdjust="spacingAndGlyphs">20:45:00</text>
<text x="3682.6" y="943.0" font-size="24" fill="#939393" text-anchor="middle" textLength="92.0" lengthAdjust="spacingAndGlyphs">20:50:00</text>
<text x="3844.2" y="943.0" font-size="24" fill="#939393" text-anchor="middle" textLength="92.0" lengthAdjust="spacingAndGlyphs">20:55:00</text>
<text x="4005.8" y="943.0" font-size="24" fill="#939393" text-anchor="middle" textLength="92.0" lengthAdjust="spacingAndGlyphs">21:00:00</text>
<text x="4167.4" y="943.0" font-size="24" fill="#939393" text-anchor="middle" textLength="92.0" lengthAdjust="spacingAndGlyphs">21:05:00</text>
<text x="4329.0" y="943.0" font-size="24" fill="#939393" text-anchor="middle" textLength="92.0" lengthAdjust="spacingAndGlyphs">21:10:00</text>
<text x="4491.0" y="943.0" font-size="24" fill="#939393" text-anchor="middle" textLength="92.0" lengthAdjust="spacingAndGlyphs">21:15:00</text>
<text x="3509.5" y="976.5" font-size="24" fill="#939393" font-weight="bold" text-anchor="middle" textLength="181.0" lengthAdjust="spacingAndGlyphs">per 30 seconds</text>
<polyline points="4557.4,469.2 4566.6,478 4557.4,486.8" fill="none" stroke="#343741" stroke-width="1.8"/>
<line x1="4586.0" y1="455.0" x2="4926.0" y2="455.0" stroke="#C9C9C9" stroke-width="2.2" />
<line x1="4586.0" y1="506.5" x2="4926.0" y2="506.5" stroke="#C9C9C9" stroke-width="2.2" />
<line x1="4586.0" y1="557.0" x2="4926.0" y2="557.0" stroke="#C9C9C9" stroke-width="2.2" />
<line x1="4586.0" y1="608.5" x2="4926.0" y2="608.5" stroke="#C9C9C9" stroke-width="2.2" />
<circle cx="4610" cy="481.8" r="8" fill="#3B86F2"/>
<text x="4634.5" y="487.4" font-size="25.2" fill="#343741" textLength="51.1" lengthAdjust="spacingAndGlyphs">read</text>
<text x="4917.5" y="487.4" font-size="25.2" fill="#404040" font-weight="bold" text-anchor="end" textLength="64.2" lengthAdjust="spacingAndGlyphs">126.5</text>
<circle cx="4610" cy="532.8" r="8" fill="#D03672"/>
<text x="4634.5" y="538.5" font-size="25.2" fill="#343741" textLength="53.9" lengthAdjust="spacingAndGlyphs">write</text>
<text x="4917.5" y="538.5" font-size="25.2" fill="#404040" font-weight="bold" text-anchor="end" textLength="14.3" lengthAdjust="spacingAndGlyphs">0</text>
<circle cx="4610" cy="583.8" r="8" fill="#48ACA0"/>
<text x="4634.5" y="589.5" font-size="25.2" fill="#343741" textLength="69.5" lengthAdjust="spacingAndGlyphs">delete</text>
<text x="4917.5" y="589.5" font-size="25.2" fill="#404040" font-weight="bold" text-anchor="end" textLength="14.3" lengthAdjust="spacingAndGlyphs">0</text>
<line x1="2567.0" y1="1130.6" x2="4491.0" y2="1130.6" stroke="#DADBDF" stroke-width="2" />
<line x1="2567.0" y1="1232.4" x2="4491.0" y2="1232.4" stroke="#DADBDF" stroke-width="2" />
<line x1="2567.0" y1="1334.2" x2="4491.0" y2="1334.2" stroke="#DADBDF" stroke-width="2" />
<line x1="2567.0" y1="1435.9" x2="4491.0" y2="1435.9" stroke="#DADBDF" stroke-width="2" />
<line x1="2567.0" y1="1537.7" x2="4491.0" y2="1537.7" stroke="#DADBDF" stroke-width="2" />
<line x1="2567.0" y1="1639.5" x2="4491.0" y2="1639.5" stroke="#DADBDF" stroke-width="2" />
<line x1="2713.0" y1="1130.6" x2="2713.0" y2="1639.5" stroke="#DADBDF" stroke-width="2" />
<line x1="2874.6" y1="1130.6" x2="2874.6" y2="1639.5" stroke="#DADBDF" stroke-width="2" />
<line x1="3036.2" y1="1130.6" x2="3036.2" y2="1639.5" stroke="#DADBDF" stroke-width="2" />
<line x1="3197.8" y1="1130.6" x2="3197.8" y2="1639.5" stroke="#DADBDF" stroke-width="2" />
<line x1="3359.4" y1="1130.6" x2="3359.4" y2="1639.5" stroke="#DADBDF" stroke-width="2" />
<line x1="3521.0" y1="1130.6" x2="3521.0" y2="1639.5" stroke="#DADBDF" stroke-width="2" />
<line x1="3682.6" y1="1130.6" x2="3682.6" y2="1639.5" stroke="#DADBDF" stroke-width="2" />
<line x1="3844.2" y1="1130.6" x2="3844.2" y2="1639.5" stroke="#DADBDF" stroke-width="2" />
<line x1="4005.8" y1="1130.6" x2="4005.8" y2="1639.5" stroke="#DADBDF" stroke-width="2" />
<line x1="4167.4" y1="1130.6" x2="4167.4" y2="1639.5" stroke="#DADBDF" stroke-width="2" />
<line x1="4329.0" y1="1130.6" x2="4329.0" y2="1639.5" stroke="#DADBDF" stroke-width="2" />
<line x1="4491.0" y1="1130.6" x2="4491.0" y2="1639.5" stroke="#DADBDF" stroke-width="2" />
<line x1="2567.0" y1="1130.6" x2="2567.0" y2="1639.5" stroke="#DADBDF" stroke-width="2" />
<line x1="4491.0" y1="1130.6" x2="4491.0" y2="1639.5" stroke="#DADBDF" stroke-width="2" />
<path d="M2600.0,1639.5 L2616.2,1639.5 L2632.3,1639.5 L2648.5,1639.5 L2664.6,1639.5 L2680.8,1639.5 L2697.0,1639.5 L2713.1,1639.5 L2729.3,1639.5 L2745.5,1639.5 L2761.6,1639.5 L2777.8,1639.5 L2793.9,1639.5 L2810.1,1639.5 L2826.3,1639.5 L2842.4,1639.5 L2858.6,1639.5 L2874.8,1639.5 L2890.9,1639.5 L2907.1,1639.5 L2923.2,1639.5 L2939.4,1639.5 L2955.6,1639.5 L2971.7,1639.5 L2987.9,1639.5 L3004.1,1639.5 L3020.2,1639.5 L3036.4,1639.5 L3052.5,1639.5 L3068.7,1639.5 L3084.9,1639.5 L3101.0,1639.5 L3117.2,1639.5 L3133.4,1639.5 L3149.5,1639.5 L3165.7,1639.5 L3181.8,1639.5 L3198.0,1639.5 L3214.2,1639.5 L3230.3,1639.5 L3246.5,1639.5 L3262.7,1639.5 L3278.8,1639.5 L3295.0,1639.5 L3311.1,1639.5 L3327.3,1639.5 L3343.5,1639.5 L3359.6,1639.5 L3375.8,1639.5 L3392.0,1639.5 L3408.1,1639.5 L3424.3,1639.5 L3440.4,1639.5 L3456.6,1639.5 L3472.8,1639.5 L3488.9,1639.5 L3505.1,1639.5 L3521.3,1639.5 L3537.4,1639.5 L3553.6,1639.5 L3569.7,1639.5 L3585.9,1639.5 L3602.1,1639.5 L3618.2,1639.5 L3634.4,1639.5 L3650.6,1639.5 L3666.7,1639.5 L3682.9,1639.5 L3699.0,1639.5 L3715.2,1639.5 L3731.4,1639.5 L3747.5,1639.5 L3763.7,1639.5 L3779.9,1639.5 L3796.0,1639.5 L3812.2,1639.5 L3828.3,1639.5 L3844.5,1639.5 L3860.7,1639.5 L3876.8,1639.5 L3893.0,1639.5 L3909.2,1639.5 L3925.3,1639.5 L3941.5,1639.5 L3957.6,1639.5 L3973.8,1639.5 L3990.0,1639.5 L4006.1,1639.5 L4022.3,1639.5 L4038.5,1639.5 L4054.6,1639.5 L4070.8,1639.5 L4086.9,1639.5 L4103.1,1639.5 L4119.3,1639.5 L4135.4,1639.5 L4151.6,1639.5 L4167.8,1639.5 L4183.9,1639.5 L4200.1,1639.5 L4216.2,1639.5 L4232.4,1639.5 L4248.6,1639.5 L4264.7,1639.5 L4280.9,1639.5 L4297.1,1639.5 L4313.2,1639.5 L4329.4,1300.6 L4345.5,1302.1 L4361.7,1403.4 L4377.9,1298.0 L4394.0,1220.7 L4410.2,1268.5 L4426.4,1254.8 L4442.5,1268.5 L4458.7,1300.6 L4474.8,1359.6 L4491.0,1334.2 L4491.0,1639.5 L2600.0,1639.5 Z" fill="#D03672" fill-opacity="0.2"/>
<path d="M2600.0,1639.5 L2616.2,1639.5 L2632.3,1639.5 L2648.5,1639.5 L2664.6,1639.5 L2680.8,1639.5 L2697.0,1639.5 L2713.1,1639.5 L2729.3,1639.5 L2745.5,1639.5 L2761.6,1639.5 L2777.8,1639.5 L2793.9,1639.5 L2810.1,1639.5 L2826.3,1639.5 L2842.4,1639.5 L2858.6,1639.5 L2874.8,1639.5 L2890.9,1639.5 L2907.1,1639.5 L2923.2,1639.5 L2939.4,1639.5 L2955.6,1639.5 L2971.7,1639.5 L2987.9,1639.5 L3004.1,1639.5 L3020.2,1639.5 L3036.4,1639.5 L3052.5,1639.5 L3068.7,1639.5 L3084.9,1639.5 L3101.0,1639.5 L3117.2,1639.5 L3133.4,1639.5 L3149.5,1639.5 L3165.7,1639.5 L3181.8,1639.5 L3198.0,1639.5 L3214.2,1639.5 L3230.3,1639.5 L3246.5,1639.5 L3262.7,1639.5 L3278.8,1639.5 L3295.0,1639.5 L3311.1,1639.5 L3327.3,1639.5 L3343.5,1639.5 L3359.6,1639.5 L3375.8,1639.5 L3392.0,1639.5 L3408.1,1639.5 L3424.3,1639.5 L3440.4,1639.5 L3456.6,1639.5 L3472.8,1639.5 L3488.9,1639.5 L3505.1,1639.5 L3521.3,1639.5 L3537.4,1639.5 L3553.6,1639.5 L3569.7,1639.5 L3585.9,1639.5 L3602.1,1639.5 L3618.2,1639.5 L3634.4,1639.5 L3650.6,1639.5 L3666.7,1639.5 L3682.9,1639.5 L3699.0,1639.5 L3715.2,1639.5 L3731.4,1639.5 L3747.5,1639.5 L3763.7,1639.5 L3779.9,1639.5 L3796.0,1639.5 L3812.2,1639.5 L3828.3,1639.5 L3844.5,1639.5 L3860.7,1639.5 L3876.8,1639.5 L3893.0,1639.5 L3909.2,1639.5 L3925.3,1639.5 L3941.5,1639.5 L3957.6,1639.5 L3973.8,1639.5 L3990.0,1639.5 L4006.1,1639.5 L4022.3,1639.5 L4038.5,1639.5 L4054.6,1639.5 L4070.8,1639.5 L4086.9,1639.5 L4103.1,1639.5 L4119.3,1639.5 L4135.4,1639.5 L4151.6,1639.5 L4167.8,1639.5 L4183.9,1639.5 L4200.1,1639.5 L4216.2,1639.5 L4232.4,1639.5 L4248.6,1639.5 L4264.7,1639.5 L4280.9,1639.5 L4297.1,1639.5 L4313.2,1639.5 L4329.4,1300.6 L4345.5,1302.1 L4361.7,1403.4 L4377.9,1298.0 L4394.0,1220.7 L4410.2,1268.5 L4426.4,1254.8 L4442.5,1268.5 L4458.7,1300.6 L4474.8,1359.6 L4491.0,1334.2" fill="none" stroke="#D03672" stroke-width="2.2" stroke-linejoin="round"/>
<path d="M2600.0,1639.5 L2616.2,1639.5 L2632.3,1639.5 L2648.5,1639.5 L2664.6,1639.5 L2680.8,1639.5 L2697.0,1639.5 L2713.1,1639.5 L2729.3,1639.5 L2745.5,1639.5 L2761.6,1639.5 L2777.8,1639.5 L2793.9,1639.5 L2810.1,1639.5 L2826.3,1639.5 L2842.4,1639.5 L2858.6,1639.5 L2874.8,1639.5 L2890.9,1639.5 L2907.1,1639.5 L2923.2,1639.5 L2939.4,1639.5 L2955.6,1639.5 L2971.7,1639.5 L2987.9,1639.5 L3004.1,1639.5 L3020.2,1639.5 L3036.4,1639.5 L3052.5,1639.5 L3068.7,1639.5 L3084.9,1639.5 L3101.0,1639.5 L3117.2,1639.5 L3133.4,1639.5 L3149.5,1639.5 L3165.7,1639.5 L3181.8,1639.5 L3198.0,1639.5 L3214.2,1639.5 L3230.3,1639.5 L3246.5,1639.5 L3262.7,1639.5 L3278.8,1639.5 L3295.0,1639.5 L3311.1,1639.5 L3327.3,1639.5 L3343.5,1639.5 L3359.6,1639.5 L3375.8,1639.5 L3392.0,1639.5 L3408.1,1639.5 L3424.3,1639.5 L3440.4,1639.5 L3456.6,1639.5 L3472.8,1639.5 L3488.9,1639.5 L3505.1,1639.5 L3521.3,1639.5 L3537.4,1639.5 L3553.6,1639.5 L3569.7,1639.5 L3585.9,1639.5 L3602.1,1639.5 L3618.2,1639.5 L3634.4,1639.5 L3650.6,1639.5 L3666.7,1639.5 L3682.9,1639.5 L3699.0,1639.5 L3715.2,1639.5 L3731.4,1639.5 L3747.5,1639.5 L3763.7,1639.5 L3779.9,1639.5 L3796.0,1639.5 L3812.2,1639.5 L3828.3,1639.5 L3844.5,1639.5 L3860.7,1639.5 L3876.8,1639.5 L3893.0,1639.5 L3909.2,1639.5 L3925.3,1639.5 L3941.5,1639.5 L3957.6,1639.5 L3973.8,1639.5 L3990.0,1639.5 L4006.1,1639.5 L4022.3,1639.5 L4038.5,1639.5 L4054.6,1639.5 L4070.8,1639.5 L4086.9,1639.5 L4103.1,1639.5 L4119.3,1639.5 L4135.4,1639.5 L4151.6,1639.5 L4167.8,1639.5 L4183.9,1639.5 L4200.1,1639.5 L4216.2,1639.5 L4232.4,1639.5 L4248.6,1639.5 L4264.7,1639.5 L4280.9,1639.5 L4297.1,1639.5 L4313.2,1639.5 L4329.4,1639.5 L4345.5,1639.5 L4361.7,1639.5 L4377.9,1639.5 L4394.0,1639.5 L4410.2,1639.5 L4426.4,1639.5 L4442.5,1639.5 L4458.7,1639.5 L4474.8,1639.5 L4491.0,1639.5" fill="none" stroke="#48ACA0" stroke-width="2.2" stroke-linejoin="round"/>
<path d="M2600.0,1639.5 L2616.2,1639.5 L2632.3,1639.5 L2648.5,1639.5 L2664.6,1639.5 L2680.8,1639.5 L2697.0,1639.5 L2713.1,1639.5 L2729.3,1639.5 L2745.5,1639.5 L2761.6,1639.5 L2777.8,1639.5 L2793.9,1639.5 L2810.1,1639.5 L2826.3,1639.5 L2842.4,1639.5 L2858.6,1639.5 L2874.8,1639.5 L2890.9,1639.5 L2907.1,1639.5 L2923.2,1639.5 L2939.4,1639.5 L2955.6,1639.5 L2971.7,1639.5 L2987.9,1639.5 L3004.1,1639.5 L3020.2,1639.5 L3036.4,1639.5 L3052.5,1639.5 L3068.7,1639.5 L3084.9,1639.5 L3101.0,1639.5 L3117.2,1639.5 L3133.4,1639.5 L3149.5,1639.5 L3165.7,1639.5 L3181.8,1639.5 L3198.0,1639.5 L3214.2,1639.5 L3230.3,1639.5 L3246.5,1639.5 L3262.7,1639.5 L3278.8,1639.5 L3295.0,1639.5 L3311.1,1639.5 L3327.3,1639.5 L3343.5,1639.5 L3359.6,1639.5 L3375.8,1639.5 L3392.0,1639.5 L3408.1,1639.5 L3424.3,1639.5 L3440.4,1639.5 L3456.6,1639.5 L3472.8,1639.5 L3488.9,1639.5 L3505.1,1639.5 L3521.3,1639.5 L3537.4,1639.5 L3553.6,1639.5 L3569.7,1639.5 L3585.9,1639.5 L3602.1,1639.5 L3618.2,1639.5 L3634.4,1639.5 L3650.6,1639.5 L3666.7,1639.5 L3682.9,1639.5 L3699.0,1639.5 L3715.2,1639.5 L3731.4,1639.5 L3747.5,1639.5 L3763.7,1639.5 L3779.9,1639.5 L3796.0,1639.5 L3812.2,1639.5 L3828.3,1639.5 L3844.5,1639.5 L3860.7,1639.5 L3876.8,1639.5 L3893.0,1639.5 L3909.2,1639.5 L3925.3,1639.5 L3941.5,1639.5 L3957.6,1639.5 L3973.8,1639.5 L3990.0,1639.5 L4006.1,1639.5 L4022.3,1639.5 L4038.5,1639.5 L4054.6,1639.5 L4070.8,1639.5 L4086.9,1639.5 L4103.1,1639.5 L4119.3,1639.5 L4135.4,1639.5 L4151.6,1639.5 L4167.8,1639.5 L4183.9,1639.5 L4200.1,1639.5 L4216.2,1639.5 L4232.4,1639.5 L4248.6,1639.5 L4264.7,1639.5 L4280.9,1639.5 L4297.1,1639.5 L4313.2,1639.5 L4329.4,1639.5 L4345.5,1639.5 L4361.7,1639.5 L4377.9,1639.5 L4394.0,1639.5 L4410.2,1639.5 L4426.4,1639.5 L4442.5,1639.5 L4458.7,1639.5 L4474.8,1639.5 L4491.0,1639.5" fill="none" stroke="#3B86F2" stroke-width="2.2" stroke-linejoin="round"/>
<text x="2557.0" y="1138.6" font-size="24" fill="#939393" text-anchor="end" textLength="69.4" lengthAdjust="spacingAndGlyphs">25,000</text>
<text x="2557.0" y="1240.4" font-size="24" fill="#939393" text-anchor="end" textLength="69.4" lengthAdjust="spacingAndGlyphs">20,000</text>
<text x="2557.0" y="1342.2" font-size="24" fill="#939393" text-anchor="end" textLength="69.4" lengthAdjust="spacingAndGlyphs">15,000</text>
<text x="2557.0" y="1443.9" font-size="24" fill="#939393" text-anchor="end" textLength="69.4" lengthAdjust="spacingAndGlyphs">10,000</text>
<text x="2557.0" y="1545.7" font-size="24" fill="#939393" text-anchor="end" textLength="56.8" lengthAdjust="spacingAndGlyphs">5,000</text>
<text x="2557.0" y="1647.5" font-size="24" fill="#939393" text-anchor="end" textLength="12.6" lengthAdjust="spacingAndGlyphs">0</text>
<text x="2713.0" y="1670.5" font-size="24" fill="#939393" text-anchor="middle" textLength="92.0" lengthAdjust="spacingAndGlyphs">20:20:00</text>
<text x="2874.6" y="1670.5" font-size="24" fill="#939393" text-anchor="middle" textLength="92.0" lengthAdjust="spacingAndGlyphs">20:25:00</text>
<text x="3036.2" y="1670.5" font-size="24" fill="#939393" text-anchor="middle" textLength="92.0" lengthAdjust="spacingAndGlyphs">20:30:00</text>
<text x="3197.8" y="1670.5" font-size="24" fill="#939393" text-anchor="middle" textLength="92.0" lengthAdjust="spacingAndGlyphs">20:35:00</text>
<text x="3359.4" y="1670.5" font-size="24" fill="#939393" text-anchor="middle" textLength="92.0" lengthAdjust="spacingAndGlyphs">20:40:00</text>
<text x="3521.0" y="1670.5" font-size="24" fill="#939393" text-anchor="middle" textLength="92.0" lengthAdjust="spacingAndGlyphs">20:45:00</text>
<text x="3682.6" y="1670.5" font-size="24" fill="#939393" text-anchor="middle" textLength="92.0" lengthAdjust="spacingAndGlyphs">20:50:00</text>
<text x="3844.2" y="1670.5" font-size="24" fill="#939393" text-anchor="middle" textLength="92.0" lengthAdjust="spacingAndGlyphs">20:55:00</text>
<text x="4005.8" y="1670.5" font-size="24" fill="#939393" text-anchor="middle" textLength="92.0" lengthAdjust="spacingAndGlyphs">21:00:00</text>
<text x="4167.4" y="1670.5" font-size="24" fill="#939393" text-anchor="middle" textLength="92.0" lengthAdjust="spacingAndGlyphs">21:05:00</text>
<text x="4329.0" y="1670.5" font-size="24" fill="#939393" text-anchor="middle" textLength="92.0" lengthAdjust="spacingAndGlyphs">21:10:00</text>
<text x="4491.0" y="1670.5" font-size="24" fill="#939393" text-anchor="middle" textLength="92.0" lengthAdjust="spacingAndGlyphs">21:15:00</text>
<text x="3509.5" y="1704.0" font-size="24" fill="#939393" font-weight="bold" text-anchor="middle" textLength="181.0" lengthAdjust="spacingAndGlyphs">per 30 seconds</text>
<polyline points="4557.4,1141.2 4566.6,1150 4557.4,1158.8" fill="none" stroke="#343741" stroke-width="1.8"/>
<line x1="4586.0" y1="1127.0" x2="4926.0" y2="1127.0" stroke="#C9C9C9" stroke-width="2.2" />
<line x1="4586.0" y1="1178.5" x2="4926.0" y2="1178.5" stroke="#C9C9C9" stroke-width="2.2" />
<line x1="4586.0" y1="1229.0" x2="4926.0" y2="1229.0" stroke="#C9C9C9" stroke-width="2.2" />
<line x1="4586.0" y1="1280.5" x2="4926.0" y2="1280.5" stroke="#C9C9C9" stroke-width="2.2" />
<circle cx="4610" cy="1153.8" r="8" fill="#3B86F2"/>
<text x="4634.5" y="1159.5" font-size="25.2" fill="#343741" textLength="51.1" lengthAdjust="spacingAndGlyphs">read</text>
<text x="4917.5" y="1159.5" font-size="25.2" fill="#404040" font-weight="bold" text-anchor="end" textLength="14.3" lengthAdjust="spacingAndGlyphs">0</text>
<circle cx="4610" cy="1204.8" r="8" fill="#D03672"/>
<text x="4634.5" y="1210.5" font-size="25.2" fill="#343741" textLength="53.9" lengthAdjust="spacingAndGlyphs">write</text>
<text x="4917.5" y="1210.5" font-size="25.2" fill="#404040" font-weight="bold" text-anchor="end" textLength="99.8" lengthAdjust="spacingAndGlyphs">15,058.4</text>
<circle cx="4610" cy="1255.8" r="8" fill="#48ACA0"/>
<text x="4634.5" y="1261.5" font-size="25.2" fill="#343741" textLength="69.5" lengthAdjust="spacingAndGlyphs">delete</text>
<text x="4917.5" y="1261.5" font-size="25.2" fill="#404040" font-weight="bold" text-anchor="end" textLength="14.3" lengthAdjust="spacingAndGlyphs">0</text>
<line x1="228.7" y1="1130.6" x2="832.7" y2="1130.6" stroke="#DADBDF" stroke-width="2" />
<line x1="228.7" y1="1232.4" x2="832.7" y2="1232.4" stroke="#DADBDF" stroke-width="2" />
<line x1="228.7" y1="1334.2" x2="832.7" y2="1334.2" stroke="#DADBDF" stroke-width="2" />
<line x1="228.7" y1="1435.9" x2="832.7" y2="1435.9" stroke="#DADBDF" stroke-width="2" />
<line x1="228.7" y1="1537.7" x2="832.7" y2="1537.7" stroke="#DADBDF" stroke-width="2" />
<line x1="228.7" y1="1639.5" x2="832.7" y2="1639.5" stroke="#DADBDF" stroke-width="2" />
<line x1="275.2" y1="1130.6" x2="275.2" y2="1639.5" stroke="#DADBDF" stroke-width="2" />
<line x1="376.3" y1="1130.6" x2="376.3" y2="1639.5" stroke="#DADBDF" stroke-width="2" />
<line x1="477.4" y1="1130.6" x2="477.4" y2="1639.5" stroke="#DADBDF" stroke-width="2" />
<line x1="578.5" y1="1130.6" x2="578.5" y2="1639.5" stroke="#DADBDF" stroke-width="2" />
<line x1="679.6" y1="1130.6" x2="679.6" y2="1639.5" stroke="#DADBDF" stroke-width="2" />
<line x1="780.7" y1="1130.6" x2="780.7" y2="1639.5" stroke="#DADBDF" stroke-width="2" />
<line x1="228.7" y1="1130.6" x2="228.7" y2="1639.5" stroke="#DADBDF" stroke-width="2" />
<line x1="832.7" y1="1130.6" x2="832.7" y2="1639.5" stroke="#DADBDF" stroke-width="2" />
<path d="M240.9,1639.5 L246.0,1639.5 L251.0,1639.5 L256.1,1639.5 L261.1,1639.5 L266.2,1639.5 L271.2,1639.5 L276.3,1639.5 L281.4,1639.5 L286.4,1639.5 L291.5,1639.5 L296.5,1639.5 L301.6,1639.5 L306.7,1639.5 L311.7,1639.5 L316.8,1639.5 L321.8,1639.5 L326.9,1639.5 L331.9,1639.5 L337.0,1639.5 L342.1,1639.5 L347.1,1639.5 L352.2,1639.5 L357.2,1639.5 L362.3,1639.5 L367.4,1639.5 L372.4,1639.5 L377.5,1639.5 L382.5,1639.5 L387.6,1639.5 L392.6,1639.5 L397.7,1639.5 L402.8,1639.5 L407.8,1639.5 L412.9,1639.5 L417.9,1639.5 L423.0,1639.5 L428.1,1639.5 L433.1,1639.5 L438.2,1639.5 L443.2,1639.5 L448.3,1639.5 L453.3,1639.5 L458.4,1639.5 L463.5,1639.5 L468.5,1639.5 L473.6,1639.5 L478.6,1639.5 L483.7,1639.5 L488.7,1639.5 L493.8,1639.5 L498.9,1639.5 L503.9,1639.5 L509.0,1639.5 L514.0,1639.5 L519.1,1639.5 L524.2,1639.5 L529.2,1639.5 L534.3,1639.5 L539.3,1639.5 L544.4,1639.5 L549.4,1639.5 L554.5,1639.5 L559.6,1639.5 L564.6,1639.5 L569.7,1639.5 L574.7,1639.5 L579.8,1639.5 L584.9,1639.5 L589.9,1639.5 L595.0,1639.5 L600.0,1639.5 L605.1,1639.5 L610.1,1639.5 L615.2,1639.5 L620.3,1639.5 L625.3,1639.5 L630.4,1639.5 L635.4,1639.5 L640.5,1639.5 L645.5,1639.5 L650.6,1639.5 L655.7,1639.5 L660.7,1639.5 L665.8,1639.5 L670.8,1639.5 L675.9,1639.5 L681.0,1639.5 L686.0,1639.5 L691.1,1639.5 L696.1,1639.5 L701.2,1639.5 L706.2,1639.5 L711.3,1639.5 L716.4,1639.5 L721.4,1639.5 L726.5,1639.5 L731.5,1639.5 L736.6,1639.5 L741.7,1639.5 L746.7,1639.5 L751.8,1639.5 L756.8,1639.5 L761.9,1639.5 L766.9,1639.5 L772.0,1639.5 L777.1,1639.5 L782.1,1300.6 L787.2,1302.1 L792.2,1403.4 L797.3,1298.0 L802.4,1220.7 L807.4,1268.5 L812.5,1254.8 L817.5,1268.5 L822.6,1300.6 L827.6,1359.6 L832.7,1334.2 L832.7,1639.5 L240.9,1639.5 Z" fill="#D03672" fill-opacity="0.2"/>
<path d="M240.9,1639.5 L246.0,1639.5 L251.0,1639.5 L256.1,1639.5 L261.1,1639.5 L266.2,1639.5 L271.2,1639.5 L276.3,1639.5 L281.4,1639.5 L286.4,1639.5 L291.5,1639.5 L296.5,1639.5 L301.6,1639.5 L306.7,1639.5 L311.7,1639.5 L316.8,1639.5 L321.8,1639.5 L326.9,1639.5 L331.9,1639.5 L337.0,1639.5 L342.1,1639.5 L347.1,1639.5 L352.2,1639.5 L357.2,1639.5 L362.3,1639.5 L367.4,1639.5 L372.4,1639.5 L377.5,1639.5 L382.5,1639.5 L387.6,1639.5 L392.6,1639.5 L397.7,1639.5 L402.8,1639.5 L407.8,1639.5 L412.9,1639.5 L417.9,1639.5 L423.0,1639.5 L428.1,1639.5 L433.1,1639.5 L438.2,1639.5 L443.2,1639.5 L448.3,1639.5 L453.3,1639.5 L458.4,1639.5 L463.5,1639.5 L468.5,1639.5 L473.6,1639.5 L478.6,1639.5 L483.7,1639.5 L488.7,1639.5 L493.8,1639.5 L498.9,1639.5 L503.9,1639.5 L509.0,1639.5 L514.0,1639.5 L519.1,1639.5 L524.2,1639.5 L529.2,1639.5 L534.3,1639.5 L539.3,1639.5 L544.4,1639.5 L549.4,1639.5 L554.5,1639.5 L559.6,1639.5 L564.6,1639.5 L569.7,1639.5 L574.7,1639.5 L579.8,1639.5 L584.9,1639.5 L589.9,1639.5 L595.0,1639.5 L600.0,1639.5 L605.1,1639.5 L610.1,1639.5 L615.2,1639.5 L620.3,1639.5 L625.3,1639.5 L630.4,1639.5 L635.4,1639.5 L640.5,1639.5 L645.5,1639.5 L650.6,1639.5 L655.7,1639.5 L660.7,1639.5 L665.8,1639.5 L670.8,1639.5 L675.9,1639.5 L681.0,1639.5 L686.0,1639.5 L691.1,1639.5 L696.1,1639.5 L701.2,1639.5 L706.2,1558.1 L711.3,1308.7 L716.4,1291.4 L721.4,1266.0 L726.5,1340.8 L731.5,1280.7 L736.6,1218.1 L741.7,1234.9 L746.7,1302.6 L751.8,1270.5 L756.8,1257.3 L761.9,1231.9 L766.9,1314.3 L772.0,1362.1 L777.1,1264.9 L782.1,1554.5 L787.2,1639.5 L792.2,1639.5 L797.3,1639.5 L802.4,1639.5 L807.4,1639.5 L812.5,1639.5 L817.5,1639.5 L822.6,1639.5 L827.6,1639.5 L832.7,1639.5 L832.7,1639.5 L240.9,1639.5 Z" fill="#3B86F2" fill-opacity="0.2"/>
<path d="M240.9,1639.5 L246.0,1639.5 L251.0,1639.5 L256.1,1639.5 L261.1,1639.5 L266.2,1639.5 L271.2,1639.5 L276.3,1639.5 L281.4,1639.5 L286.4,1639.5 L291.5,1639.5 L296.5,1639.5 L301.6,1639.5 L306.7,1639.5 L311.7,1639.5 L316.8,1639.5 L321.8,1639.5 L326.9,1639.5 L331.9,1639.5 L337.0,1639.5 L342.1,1639.5 L347.1,1639.5 L352.2,1639.5 L357.2,1639.5 L362.3,1639.5 L367.4,1639.5 L372.4,1639.5 L377.5,1639.5 L382.5,1639.5 L387.6,1639.5 L392.6,1639.5 L397.7,1639.5 L402.8,1639.5 L407.8,1639.5 L412.9,1639.5 L417.9,1639.5 L423.0,1639.5 L428.1,1639.5 L433.1,1639.5 L438.2,1639.5 L443.2,1639.5 L448.3,1639.5 L453.3,1639.5 L458.4,1639.5 L463.5,1639.5 L468.5,1639.5 L473.6,1639.5 L478.6,1639.5 L483.7,1639.5 L488.7,1639.5 L493.8,1639.5 L498.9,1639.5 L503.9,1639.5 L509.0,1639.5 L514.0,1639.5 L519.1,1639.5 L524.2,1639.5 L529.2,1639.5 L534.3,1639.5 L539.3,1639.5 L544.4,1639.5 L549.4,1639.5 L554.5,1639.5 L559.6,1639.5 L564.6,1639.5 L569.7,1639.5 L574.7,1639.5 L579.8,1639.5 L584.9,1639.5 L589.9,1639.5 L595.0,1639.5 L600.0,1639.5 L605.1,1639.5 L610.1,1639.5 L615.2,1639.5 L620.3,1639.5 L625.3,1639.5 L630.4,1639.5 L635.4,1639.5 L640.5,1639.5 L645.5,1639.5 L650.6,1639.5 L655.7,1639.5 L660.7,1639.5 L665.8,1639.5 L670.8,1639.5 L675.9,1639.5 L681.0,1639.5 L686.0,1639.5 L691.1,1639.5 L696.1,1639.5 L701.2,1639.5 L706.2,1639.5 L711.3,1639.5 L716.4,1639.5 L721.4,1639.5 L726.5,1639.5 L731.5,1639.5 L736.6,1639.5 L741.7,1639.5 L746.7,1639.5 L751.8,1639.5 L756.8,1639.5 L761.9,1639.5 L766.9,1639.5 L772.0,1639.5 L777.1,1639.5 L782.1,1300.6 L787.2,1302.1 L792.2,1403.4 L797.3,1298.0 L802.4,1220.7 L807.4,1268.5 L812.5,1254.8 L817.5,1268.5 L822.6,1300.6 L827.6,1359.6 L832.7,1334.2" fill="none" stroke="#D03672" stroke-width="2.2" stroke-linejoin="round"/>
<path d="M240.9,1639.5 L246.0,1639.5 L251.0,1639.5 L256.1,1639.5 L261.1,1639.5 L266.2,1639.5 L271.2,1639.5 L276.3,1639.5 L281.4,1639.5 L286.4,1639.5 L291.5,1639.5 L296.5,1639.5 L301.6,1639.5 L306.7,1639.5 L311.7,1639.5 L316.8,1639.5 L321.8,1639.5 L326.9,1639.5 L331.9,1639.5 L337.0,1639.5 L342.1,1639.5 L347.1,1639.5 L352.2,1639.5 L357.2,1639.5 L362.3,1639.5 L367.4,1639.5 L372.4,1639.5 L377.5,1639.5 L382.5,1639.5 L387.6,1639.5 L392.6,1639.5 L397.7,1639.5 L402.8,1639.5 L407.8,1639.5 L412.9,1639.5 L417.9,1639.5 L423.0,1639.5 L428.1,1639.5 L433.1,1639.5 L438.2,1639.5 L443.2,1639.5 L448.3,1639.5 L453.3,1639.5 L458.4,1639.5 L463.5,1639.5 L468.5,1639.5 L473.6,1639.5 L478.6,1639.5 L483.7,1639.5 L488.7,1639.5 L493.8,1639.5 L498.9,1639.5 L503.9,1639.5 L509.0,1639.5 L514.0,1639.5 L519.1,1639.5 L524.2,1639.5 L529.2,1639.5 L534.3,1639.5 L539.3,1639.5 L544.4,1639.5 L549.4,1639.5 L554.5,1639.5 L559.6,1639.5 L564.6,1639.5 L569.7,1639.5 L574.7,1639.5 L579.8,1639.5 L584.9,1639.5 L589.9,1639.5 L595.0,1639.5 L600.0,1639.5 L605.1,1639.5 L610.1,1639.5 L615.2,1639.5 L620.3,1639.5 L625.3,1639.5 L630.4,1639.5 L635.4,1639.5 L640.5,1639.5 L645.5,1639.5 L650.6,1639.5 L655.7,1639.5 L660.7,1639.5 L665.8,1639.5 L670.8,1639.5 L675.9,1639.5 L681.0,1639.5 L686.0,1639.5 L691.1,1639.5 L696.1,1639.5 L701.2,1639.5 L706.2,1558.1 L711.3,1308.7 L716.4,1291.4 L721.4,1266.0 L726.5,1340.8 L731.5,1280.7 L736.6,1218.1 L741.7,1234.9 L746.7,1302.6 L751.8,1270.5 L756.8,1257.3 L761.9,1231.9 L766.9,1314.3 L772.0,1362.1 L777.1,1264.9 L782.1,1554.5 L787.2,1639.5 L792.2,1639.5 L797.3,1639.5 L802.4,1639.5 L807.4,1639.5 L812.5,1639.5 L817.5,1639.5 L822.6,1639.5 L827.6,1639.5 L832.7,1639.5" fill="none" stroke="#3B86F2" stroke-width="2.2" stroke-linejoin="round"/>
<text x="218.7" y="1138.6" font-size="24" fill="#939393" text-anchor="end" textLength="69.4" lengthAdjust="spacingAndGlyphs">25,000</text>
<text x="218.7" y="1240.4" font-size="24" fill="#939393" text-anchor="end" textLength="69.4" lengthAdjust="spacingAndGlyphs">20,000</text>
<text x="218.7" y="1342.2" font-size="24" fill="#939393" text-anchor="end" textLength="69.4" lengthAdjust="spacingAndGlyphs">15,000</text>
<text x="218.7" y="1443.9" font-size="24" fill="#939393" text-anchor="end" textLength="69.4" lengthAdjust="spacingAndGlyphs">10,000</text>
<text x="218.7" y="1545.7" font-size="24" fill="#939393" text-anchor="end" textLength="56.8" lengthAdjust="spacingAndGlyphs">5,000</text>
<text x="218.7" y="1647.5" font-size="24" fill="#939393" text-anchor="end" textLength="12.6" lengthAdjust="spacingAndGlyphs">0</text>
<text x="275.2" y="1670.5" font-size="24" fill="#939393" text-anchor="middle" textLength="92.0" lengthAdjust="spacingAndGlyphs">20:20:00</text>
<text x="376.3" y="1670.5" font-size="24" fill="#939393" text-anchor="middle" textLength="92.0" lengthAdjust="spacingAndGlyphs">20:30:00</text>
<text x="477.4" y="1670.5" font-size="24" fill="#939393" text-anchor="middle" textLength="92.0" lengthAdjust="spacingAndGlyphs">20:40:00</text>
<text x="578.5" y="1670.5" font-size="24" fill="#939393" text-anchor="middle" textLength="92.0" lengthAdjust="spacingAndGlyphs">20:50:00</text>
<text x="679.6" y="1670.5" font-size="24" fill="#939393" text-anchor="middle" textLength="92.0" lengthAdjust="spacingAndGlyphs">21:00:00</text>
<text x="780.7" y="1670.5" font-size="24" fill="#939393" text-anchor="middle" textLength="92.0" lengthAdjust="spacingAndGlyphs">21:10:00</text>
<text x="511.4" y="1704.0" font-size="24" fill="#939393" font-weight="bold" text-anchor="middle" textLength="181.0" lengthAdjust="spacingAndGlyphs">per 30 seconds</text>
<polyline points="899.4,1141.2 908.6,1150 899.4,1158.8" fill="none" stroke="#343741" stroke-width="1.8"/>
<line x1="928.0" y1="1127.0" x2="1268.0" y2="1127.0" stroke="#C9C9C9" stroke-width="2.2" />
<line x1="928.0" y1="1178.5" x2="1268.0" y2="1178.5" stroke="#C9C9C9" stroke-width="2.2" />
<line x1="928.0" y1="1229.0" x2="1268.0" y2="1229.0" stroke="#C9C9C9" stroke-width="2.2" />
<line x1="928.0" y1="1280.5" x2="1268.0" y2="1280.5" stroke="#C9C9C9" stroke-width="2.2" />
<circle cx="952" cy="1153.8" r="8" fill="#3B86F2"/>
<text x="976.5" y="1159.5" font-size="25.2" fill="#343741" textLength="92.2" lengthAdjust="spacingAndGlyphs">success</text>
<text x="1259.5" y="1159.5" font-size="25.2" fill="#404040" font-weight="bold" text-anchor="end" textLength="14.3" lengthAdjust="spacingAndGlyphs">0</text>
<circle cx="952" cy="1204.8" r="8" fill="#D03672"/>
<text x="976.5" y="1210.5" font-size="25.2" fill="#343741" textLength="53.9" lengthAdjust="spacingAndGlyphs">error</text>
<text x="1259.5" y="1210.5" font-size="25.2" fill="#404040" font-weight="bold" text-anchor="end" textLength="99.8" lengthAdjust="spacingAndGlyphs">15,058.4</text>
<circle cx="952" cy="1255.8" r="8" fill="#48ACA0"/>
<text x="976.5" y="1261.5" font-size="25.2" fill="#343741" textLength="83.7" lengthAdjust="spacingAndGlyphs">timeout</text>
<text x="1259.5" y="1261.5" font-size="25.2" fill="#404040" font-weight="bold" text-anchor="end" textLength="14.3" lengthAdjust="spacingAndGlyphs">0</text>
<line x1="1434.4" y1="1130.6" x2="1951.0" y2="1130.6" stroke="#DADBDF" stroke-width="2" />
<line x1="1434.4" y1="1232.4" x2="1951.0" y2="1232.4" stroke="#DADBDF" stroke-width="2" />
<line x1="1434.4" y1="1334.2" x2="1951.0" y2="1334.2" stroke="#DADBDF" stroke-width="2" />
<line x1="1434.4" y1="1435.9" x2="1951.0" y2="1435.9" stroke="#DADBDF" stroke-width="2" />
<line x1="1434.4" y1="1537.7" x2="1951.0" y2="1537.7" stroke="#DADBDF" stroke-width="2" />
<line x1="1434.4" y1="1639.5" x2="1951.0" y2="1639.5" stroke="#DADBDF" stroke-width="2" />
<line x1="1474.7" y1="1130.6" x2="1474.7" y2="1639.5" stroke="#DADBDF" stroke-width="2" />
<line x1="1561.1" y1="1130.6" x2="1561.1" y2="1639.5" stroke="#DADBDF" stroke-width="2" />
<line x1="1647.5" y1="1130.6" x2="1647.5" y2="1639.5" stroke="#DADBDF" stroke-width="2" />
<line x1="1734.0" y1="1130.6" x2="1734.0" y2="1639.5" stroke="#DADBDF" stroke-width="2" />
<line x1="1820.4" y1="1130.6" x2="1820.4" y2="1639.5" stroke="#DADBDF" stroke-width="2" />
<line x1="1906.8" y1="1130.6" x2="1906.8" y2="1639.5" stroke="#DADBDF" stroke-width="2" />
<line x1="1434.4" y1="1130.6" x2="1434.4" y2="1639.5" stroke="#DADBDF" stroke-width="2" />
<line x1="1951.0" y1="1130.6" x2="1951.0" y2="1639.5" stroke="#DADBDF" stroke-width="2" />
<path d="M1444.4,1639.5 L1448.7,1639.5 L1453.1,1639.5 L1457.4,1639.5 L1461.7,1639.5 L1466.0,1639.5 L1470.4,1639.5 L1474.7,1639.5 L1479.0,1639.5 L1483.4,1639.5 L1487.7,1639.5 L1492.0,1639.5 L1496.4,1639.5 L1500.7,1639.5 L1505.0,1639.5 L1509.3,1639.5 L1513.7,1639.5 L1518.0,1639.5 L1522.3,1639.5 L1526.7,1639.5 L1531.0,1639.5 L1535.3,1639.5 L1539.7,1639.5 L1544.0,1639.5 L1548.3,1639.5 L1552.6,1639.5 L1557.0,1639.5 L1561.3,1639.5 L1565.6,1639.5 L1570.0,1639.5 L1574.3,1639.5 L1578.6,1639.5 L1583.0,1639.5 L1587.3,1639.5 L1591.6,1639.5 L1595.9,1639.5 L1600.3,1639.5 L1604.6,1639.5 L1608.9,1639.5 L1613.3,1639.5 L1617.6,1639.5 L1621.9,1639.5 L1626.3,1639.5 L1630.6,1639.5 L1634.9,1639.5 L1639.2,1639.5 L1643.6,1639.5 L1647.9,1639.5 L1652.2,1639.5 L1656.6,1639.5 L1660.9,1639.5 L1665.2,1639.5 L1669.6,1639.5 L1673.9,1639.5 L1678.2,1639.5 L1682.5,1639.5 L1686.9,1639.5 L1691.2,1639.5 L1695.5,1639.5 L1699.9,1639.5 L1704.2,1639.5 L1708.5,1639.5 L1712.9,1639.5 L1717.2,1639.5 L1721.5,1639.5 L1725.8,1639.5 L1730.2,1639.5 L1734.5,1639.5 L1738.8,1639.5 L1743.2,1639.5 L1747.5,1639.5 L1751.8,1639.5 L1756.2,1639.5 L1760.5,1639.5 L1764.8,1639.5 L1769.1,1639.5 L1773.5,1639.5 L1777.8,1639.5 L1782.1,1639.5 L1786.5,1639.5 L1790.8,1639.5 L1795.1,1639.5 L1799.5,1639.5 L1803.8,1639.5 L1808.1,1639.5 L1812.4,1639.5 L1816.8,1639.5 L1821.1,1639.5 L1825.4,1639.5 L1829.8,1639.5 L1834.1,1639.5 L1838.4,1639.5 L1842.8,1549.4 L1847.1,1271.6 L1851.4,1253.8 L1855.7,1228.8 L1860.1,1314.8 L1864.4,1253.8 L1868.7,1183.5 L1873.1,1205.9 L1877.4,1281.2 L1881.7,1248.2 L1886.1,1229.8 L1890.4,1212.5 L1894.7,1284.3 L1899.0,1351.5 L1903.4,1248.2 L1907.7,1202.4 L1912.0,1317.4 L1916.4,1396.2 L1920.7,1273.1 L1925.0,1209.5 L1929.4,1256.8 L1933.7,1242.6 L1938.0,1253.8 L1942.3,1292.4 L1946.7,1353.5 L1951.0,1325.5 L1951.0,1639.5 L1444.4,1639.5 Z" fill="#48ACA0" fill-opacity="0.2"/>
<path d="M1444.4,1639.5 L1448.7,1639.5 L1453.1,1639.5 L1457.4,1639.5 L1461.7,1639.5 L1466.0,1639.5 L1470.4,1639.5 L1474.7,1639.5 L1479.0,1639.5 L1483.4,1639.5 L1487.7,1639.5 L1492.0,1639.5 L1496.4,1639.5 L1500.7,1639.5 L1505.0,1639.5 L1509.3,1639.5 L1513.7,1639.5 L1518.0,1639.5 L1522.3,1639.5 L1526.7,1639.5 L1531.0,1639.5 L1535.3,1639.5 L1539.7,1639.5 L1544.0,1639.5 L1548.3,1639.5 L1552.6,1639.5 L1557.0,1639.5 L1561.3,1639.5 L1565.6,1639.5 L1570.0,1639.5 L1574.3,1639.5 L1578.6,1639.5 L1583.0,1639.5 L1587.3,1639.5 L1591.6,1639.5 L1595.9,1639.5 L1600.3,1639.5 L1604.6,1639.5 L1608.9,1639.5 L1613.3,1639.5 L1617.6,1639.5 L1621.9,1639.5 L1626.3,1639.5 L1630.6,1639.5 L1634.9,1639.5 L1639.2,1639.5 L1643.6,1639.5 L1647.9,1639.5 L1652.2,1639.5 L1656.6,1639.5 L1660.9,1639.5 L1665.2,1639.5 L1669.6,1639.5 L1673.9,1639.5 L1678.2,1639.5 L1682.5,1639.5 L1686.9,1639.5 L1691.2,1639.5 L1695.5,1639.5 L1699.9,1639.5 L1704.2,1639.5 L1708.5,1639.5 L1712.9,1639.5 L1717.2,1639.5 L1721.5,1639.5 L1725.8,1639.5 L1730.2,1639.5 L1734.5,1639.5 L1738.8,1639.5 L1743.2,1639.5 L1747.5,1639.5 L1751.8,1639.5 L1756.2,1639.5 L1760.5,1639.5 L1764.8,1639.5 L1769.1,1639.5 L1773.5,1639.5 L1777.8,1639.5 L1782.1,1639.5 L1786.5,1639.5 L1790.8,1639.5 L1795.1,1639.5 L1799.5,1639.5 L1803.8,1639.5 L1808.1,1639.5 L1812.4,1639.5 L1816.8,1639.5 L1821.1,1639.5 L1825.4,1639.5 L1829.8,1639.5 L1834.1,1639.5 L1838.4,1639.5 L1842.8,1638.0 L1847.1,1634.9 L1851.4,1632.4 L1855.7,1629.3 L1860.1,1627.8 L1864.4,1624.7 L1868.7,1620.2 L1873.1,1624.2 L1877.4,1621.2 L1881.7,1620.2 L1886.1,1615.6 L1890.4,1613.0 L1894.7,1617.6 L1899.0,1618.6 L1903.4,1610.0 L1907.7,1604.4 L1912.0,1612.0 L1916.4,1620.2 L1920.7,1613.0 L1925.0,1605.9 L1929.4,1610.0 L1933.7,1608.5 L1938.0,1610.0 L1942.3,1612.0 L1946.7,1616.6 L1951.0,1613.0 L1951.0,1639.5 L1444.4,1639.5 Z" fill="#3B86F2" fill-opacity="0.2"/>
<path d="M1444.4,1639.5 L1448.7,1639.5 L1453.1,1639.5 L1457.4,1639.5 L1461.7,1639.5 L1466.0,1639.5 L1470.4,1639.5 L1474.7,1639.5 L1479.0,1639.5 L1483.4,1639.5 L1487.7,1639.5 L1492.0,1639.5 L1496.4,1639.5 L1500.7,1639.5 L1505.0,1639.5 L1509.3,1639.5 L1513.7,1639.5 L1518.0,1639.5 L1522.3,1639.5 L1526.7,1639.5 L1531.0,1639.5 L1535.3,1639.5 L1539.7,1639.5 L1544.0,1639.5 L1548.3,1639.5 L1552.6,1639.5 L1557.0,1639.5 L1561.3,1639.5 L1565.6,1639.5 L1570.0,1639.5 L1574.3,1639.5 L1578.6,1639.5 L1583.0,1639.5 L1587.3,1639.5 L1591.6,1639.5 L1595.9,1639.5 L1600.3,1639.5 L1604.6,1639.5 L1608.9,1639.5 L1613.3,1639.5 L1617.6,1639.5 L1621.9,1639.5 L1626.3,1639.5 L1630.6,1639.5 L1634.9,1639.5 L1639.2,1639.5 L1643.6,1639.5 L1647.9,1639.5 L1652.2,1639.5 L1656.6,1639.5 L1660.9,1639.5 L1665.2,1639.5 L1669.6,1639.5 L1673.9,1639.5 L1678.2,1639.5 L1682.5,1639.5 L1686.9,1639.5 L1691.2,1639.5 L1695.5,1639.5 L1699.9,1639.5 L1704.2,1639.5 L1708.5,1639.5 L1712.9,1639.5 L1717.2,1639.5 L1721.5,1639.5 L1725.8,1639.5 L1730.2,1639.5 L1734.5,1639.5 L1738.8,1639.5 L1743.2,1639.5 L1747.5,1639.5 L1751.8,1639.5 L1756.2,1639.5 L1760.5,1639.5 L1764.8,1639.5 L1769.1,1639.5 L1773.5,1639.5 L1777.8,1639.5 L1782.1,1639.5 L1786.5,1639.5 L1790.8,1639.5 L1795.1,1639.5 L1799.5,1639.5 L1803.8,1639.5 L1808.1,1639.5 L1812.4,1639.5 L1816.8,1639.5 L1821.1,1639.5 L1825.4,1639.5 L1829.8,1639.5 L1834.1,1639.5 L1838.4,1639.5 L1842.8,1549.4 L1847.1,1271.6 L1851.4,1253.8 L1855.7,1228.8 L1860.1,1314.8 L1864.4,1253.8 L1868.7,1183.5 L1873.1,1205.9 L1877.4,1281.2 L1881.7,1248.2 L1886.1,1229.8 L1890.4,1212.5 L1894.7,1284.3 L1899.0,1351.5 L1903.4,1248.2 L1907.7,1202.4 L1912.0,1317.4 L1916.4,1396.2 L1920.7,1273.1 L1925.0,1209.5 L1929.4,1256.8 L1933.7,1242.6 L1938.0,1253.8 L1942.3,1292.4 L1946.7,1353.5 L1951.0,1325.5" fill="none" stroke="#48ACA0" stroke-width="2.2" stroke-linejoin="round"/>
<path d="M1444.4,1639.5 L1448.7,1639.5 L1453.1,1639.5 L1457.4,1639.5 L1461.7,1639.5 L1466.0,1639.5 L1470.4,1639.5 L1474.7,1639.5 L1479.0,1639.5 L1483.4,1639.5 L1487.7,1639.5 L1492.0,1639.5 L1496.4,1639.5 L1500.7,1639.5 L1505.0,1639.5 L1509.3,1639.5 L1513.7,1639.5 L1518.0,1639.5 L1522.3,1639.5 L1526.7,1639.5 L1531.0,1639.5 L1535.3,1639.5 L1539.7,1639.5 L1544.0,1639.5 L1548.3,1639.5 L1552.6,1639.5 L1557.0,1639.5 L1561.3,1639.5 L1565.6,1639.5 L1570.0,1639.5 L1574.3,1639.5 L1578.6,1639.5 L1583.0,1639.5 L1587.3,1639.5 L1591.6,1639.5 L1595.9,1639.5 L1600.3,1639.5 L1604.6,1639.5 L1608.9,1639.5 L1613.3,1639.5 L1617.6,1639.5 L1621.9,1639.5 L1626.3,1639.5 L1630.6,1639.5 L1634.9,1639.5 L1639.2,1639.5 L1643.6,1639.5 L1647.9,1639.5 L1652.2,1639.5 L1656.6,1639.5 L1660.9,1639.5 L1665.2,1639.5 L1669.6,1639.5 L1673.9,1639.5 L1678.2,1639.5 L1682.5,1639.5 L1686.9,1639.5 L1691.2,1639.5 L1695.5,1639.5 L1699.9,1639.5 L1704.2,1639.5 L1708.5,1639.5 L1712.9,1639.5 L1717.2,1639.5 L1721.5,1639.5 L1725.8,1639.5 L1730.2,1639.5 L1734.5,1639.5 L1738.8,1639.5 L1743.2,1639.5 L1747.5,1639.5 L1751.8,1639.5 L1756.2,1639.5 L1760.5,1639.5 L1764.8,1639.5 L1769.1,1639.5 L1773.5,1639.5 L1777.8,1639.5 L1782.1,1639.5 L1786.5,1639.5 L1790.8,1639.5 L1795.1,1639.5 L1799.5,1639.5 L1803.8,1639.5 L1808.1,1639.5 L1812.4,1639.5 L1816.8,1639.5 L1821.1,1639.5 L1825.4,1639.5 L1829.8,1639.5 L1834.1,1639.5 L1838.4,1639.5 L1842.8,1639.5 L1847.1,1639.5 L1851.4,1639.5 L1855.7,1639.5 L1860.1,1639.5 L1864.4,1639.5 L1868.7,1639.5 L1873.1,1639.5 L1877.4,1639.5 L1881.7,1639.5 L1886.1,1639.5 L1890.4,1639.5 L1894.7,1639.5 L1899.0,1639.5 L1903.4,1639.5 L1907.7,1639.5 L1912.0,1639.5 L1916.4,1639.5 L1920.7,1639.5 L1925.0,1639.5 L1929.4,1639.5 L1933.7,1639.5 L1938.0,1639.5 L1942.3,1639.5 L1946.7,1639.5 L1951.0,1639.5" fill="none" stroke="#D03672" stroke-width="2.2" stroke-linejoin="round"/>
<path d="M1444.4,1639.5 L1448.7,1639.5 L1453.1,1639.5 L1457.4,1639.5 L1461.7,1639.5 L1466.0,1639.5 L1470.4,1639.5 L1474.7,1639.5 L1479.0,1639.5 L1483.4,1639.5 L1487.7,1639.5 L1492.0,1639.5 L1496.4,1639.5 L1500.7,1639.5 L1505.0,1639.5 L1509.3,1639.5 L1513.7,1639.5 L1518.0,1639.5 L1522.3,1639.5 L1526.7,1639.5 L1531.0,1639.5 L1535.3,1639.5 L1539.7,1639.5 L1544.0,1639.5 L1548.3,1639.5 L1552.6,1639.5 L1557.0,1639.5 L1561.3,1639.5 L1565.6,1639.5 L1570.0,1639.5 L1574.3,1639.5 L1578.6,1639.5 L1583.0,1639.5 L1587.3,1639.5 L1591.6,1639.5 L1595.9,1639.5 L1600.3,1639.5 L1604.6,1639.5 L1608.9,1639.5 L1613.3,1639.5 L1617.6,1639.5 L1621.9,1639.5 L1626.3,1639.5 L1630.6,1639.5 L1634.9,1639.5 L1639.2,1639.5 L1643.6,1639.5 L1647.9,1639.5 L1652.2,1639.5 L1656.6,1639.5 L1660.9,1639.5 L1665.2,1639.5 L1669.6,1639.5 L1673.9,1639.5 L1678.2,1639.5 L1682.5,1639.5 L1686.9,1639.5 L1691.2,1639.5 L1695.5,1639.5 L1699.9,1639.5 L1704.2,1639.5 L1708.5,1639.5 L1712.9,1639.5 L1717.2,1639.5 L1721.5,1639.5 L1725.8,1639.5 L1730.2,1639.5 L1734.5,1639.5 L1738.8,1639.5 L1743.2,1639.5 L1747.5,1639.5 L1751.8,1639.5 L1756.2,1639.5 L1760.5,1639.5 L1764.8,1639.5 L1769.1,1639.5 L1773.5,1639.5 L1777.8,1639.5 L1782.1,1639.5 L1786.5,1639.5 L1790.8,1639.5 L1795.1,1639.5 L1799.5,1639.5 L1803.8,1639.5 L1808.1,1639.5 L1812.4,1639.5 L1816.8,1639.5 L1821.1,1639.5 L1825.4,1639.5 L1829.8,1639.5 L1834.1,1639.5 L1838.4,1639.5 L1842.8,1638.0 L1847.1,1634.9 L1851.4,1632.4 L1855.7,1629.3 L1860.1,1627.8 L1864.4,1624.7 L1868.7,1620.2 L1873.1,1624.2 L1877.4,1621.2 L1881.7,1620.2 L1886.1,1615.6 L1890.4,1613.0 L1894.7,1617.6 L1899.0,1618.6 L1903.4,1610.0 L1907.7,1604.4 L1912.0,1612.0 L1916.4,1620.2 L1920.7,1613.0 L1925.0,1605.9 L1929.4,1610.0 L1933.7,1608.5 L1938.0,1610.0 L1942.3,1612.0 L1946.7,1616.6 L1951.0,1613.0" fill="none" stroke="#3B86F2" stroke-width="2.2" stroke-linejoin="round"/>
<text x="1424.4" y="1138.6" font-size="24" fill="#939393" text-anchor="end" textLength="56.8" lengthAdjust="spacingAndGlyphs">2,500</text>
<text x="1424.4" y="1240.4" font-size="24" fill="#939393" text-anchor="end" textLength="56.8" lengthAdjust="spacingAndGlyphs">2,000</text>
<text x="1424.4" y="1342.2" font-size="24" fill="#939393" text-anchor="end" textLength="56.8" lengthAdjust="spacingAndGlyphs">1,500</text>
<text x="1424.4" y="1443.9" font-size="24" fill="#939393" text-anchor="end" textLength="56.8" lengthAdjust="spacingAndGlyphs">1,000</text>
<text x="1424.4" y="1545.7" font-size="24" fill="#939393" text-anchor="end" textLength="37.9" lengthAdjust="spacingAndGlyphs">500</text>
<text x="1424.4" y="1647.5" font-size="24" fill="#939393" text-anchor="end" textLength="12.6" lengthAdjust="spacingAndGlyphs">0</text>
<text x="1474.7" y="1670.5" font-size="24" fill="#939393" text-anchor="middle" textLength="92.0" lengthAdjust="spacingAndGlyphs">20:20:00</text>
<text x="1561.1" y="1670.5" font-size="24" fill="#939393" text-anchor="middle" textLength="92.0" lengthAdjust="spacingAndGlyphs">20:30:00</text>
<text x="1647.5" y="1670.5" font-size="24" fill="#939393" text-anchor="middle" textLength="92.0" lengthAdjust="spacingAndGlyphs">20:40:00</text>
<text x="1734.0" y="1670.5" font-size="24" fill="#939393" text-anchor="middle" textLength="92.0" lengthAdjust="spacingAndGlyphs">20:50:00</text>
<text x="1820.4" y="1670.5" font-size="24" fill="#939393" text-anchor="middle" textLength="92.0" lengthAdjust="spacingAndGlyphs">21:00:00</text>
<text x="1906.8" y="1670.5" font-size="24" fill="#939393" text-anchor="middle" textLength="92.0" lengthAdjust="spacingAndGlyphs">21:10:00</text>
<text x="1680.5" y="1704.0" font-size="24" fill="#939393" font-weight="bold" text-anchor="middle" textLength="181.0" lengthAdjust="spacingAndGlyphs">per 30 seconds</text>
<polyline points="2017.4,1141.2 2026.6,1150 2017.4,1158.8" fill="none" stroke="#343741" stroke-width="1.8"/>
<line x1="2046.0" y1="1127.0" x2="2386.0" y2="1127.0" stroke="#C9C9C9" stroke-width="2.2" />
<line x1="2046.0" y1="1178.5" x2="2386.0" y2="1178.5" stroke="#C9C9C9" stroke-width="2.2" />
<line x1="2046.0" y1="1229.0" x2="2386.0" y2="1229.0" stroke="#C9C9C9" stroke-width="2.2" />
<line x1="2046.0" y1="1280.5" x2="2386.0" y2="1280.5" stroke="#C9C9C9" stroke-width="2.2" />
<line x1="2046.0" y1="1331.0" x2="2386.0" y2="1331.0" stroke="#C9C9C9" stroke-width="2.2" />
<circle cx="2070" cy="1153.8" r="8" fill="#3B86F2"/>
<text x="2094.5" y="1159.5" font-size="25.2" fill="#343741" textLength="92.2" lengthAdjust="spacingAndGlyphs">success</text>
<text x="2377.5" y="1159.5" font-size="25.2" fill="#404040" font-weight="bold" text-anchor="end" textLength="64.2" lengthAdjust="spacingAndGlyphs">126.5</text>
<circle cx="2070" cy="1204.8" r="8" fill="#D03672"/>
<text x="2094.5" y="1210.5" font-size="25.2" fill="#343741" textLength="53.9" lengthAdjust="spacingAndGlyphs">error</text>
<text x="2377.5" y="1210.5" font-size="25.2" fill="#404040" font-weight="bold" text-anchor="end" textLength="14.3" lengthAdjust="spacingAndGlyphs">0</text>
<circle cx="2070" cy="1255.8" r="8" fill="#48ACA0"/>
<text x="2094.5" y="1261.5" font-size="25.2" fill="#343741" textLength="113.5" lengthAdjust="spacingAndGlyphs">not_found</text>
<text x="2377.5" y="1261.5" font-size="25.2" fill="#404040" font-weight="bold" text-anchor="end" textLength="85.5" lengthAdjust="spacingAndGlyphs">1,551.1</text>
<circle cx="2070" cy="1306.8" r="8" fill="#4A2390"/>
<text x="2094.5" y="1312.5" font-size="25.2" fill="#343741" textLength="83.7" lengthAdjust="spacingAndGlyphs">timeout</text>
<text x="2377.5" y="1312.5" font-size="25.2" fill="#404040" font-weight="bold" text-anchor="end" textLength="14.3" lengthAdjust="spacingAndGlyphs">0</text>
<line x1="273.1" y1="1858.8" x2="1951.3" y2="1858.8" stroke="#DADBDF" stroke-width="2" />
<line x1="273.1" y1="1943.7" x2="1951.3" y2="1943.7" stroke="#DADBDF" stroke-width="2" />
<line x1="273.1" y1="2028.5" x2="1951.3" y2="2028.5" stroke="#DADBDF" stroke-width="2" />
<line x1="273.1" y1="2113.4" x2="1951.3" y2="2113.4" stroke="#DADBDF" stroke-width="2" />
<line x1="273.1" y1="2198.3" x2="1951.3" y2="2198.3" stroke="#DADBDF" stroke-width="2" />
<line x1="273.1" y1="2283.1" x2="1951.3" y2="2283.1" stroke="#DADBDF" stroke-width="2" />
<line x1="273.1" y1="2368.0" x2="1951.3" y2="2368.0" stroke="#DADBDF" stroke-width="2" />
<line x1="401.1" y1="1858.8" x2="401.1" y2="2368.0" stroke="#DADBDF" stroke-width="2" />
<line x1="541.9" y1="1858.8" x2="541.9" y2="2368.0" stroke="#DADBDF" stroke-width="2" />
<line x1="682.6" y1="1858.8" x2="682.6" y2="2368.0" stroke="#DADBDF" stroke-width="2" />
<line x1="823.4" y1="1858.8" x2="823.4" y2="2368.0" stroke="#DADBDF" stroke-width="2" />
<line x1="964.1" y1="1858.8" x2="964.1" y2="2368.0" stroke="#DADBDF" stroke-width="2" />
<line x1="1104.9" y1="1858.8" x2="1104.9" y2="2368.0" stroke="#DADBDF" stroke-width="2" />
<line x1="1245.7" y1="1858.8" x2="1245.7" y2="2368.0" stroke="#DADBDF" stroke-width="2" />
<line x1="1386.4" y1="1858.8" x2="1386.4" y2="2368.0" stroke="#DADBDF" stroke-width="2" />
<line x1="1527.2" y1="1858.8" x2="1527.2" y2="2368.0" stroke="#DADBDF" stroke-width="2" />
<line x1="1667.9" y1="1858.8" x2="1667.9" y2="2368.0" stroke="#DADBDF" stroke-width="2" />
<line x1="1808.7" y1="1858.8" x2="1808.7" y2="2368.0" stroke="#DADBDF" stroke-width="2" />
<line x1="1951.3" y1="1858.8" x2="1951.3" y2="2368.0" stroke="#DADBDF" stroke-width="2" />
<line x1="273.1" y1="1858.8" x2="273.1" y2="2368.0" stroke="#DADBDF" stroke-width="2" />
<line x1="1951.3" y1="1858.8" x2="1951.3" y2="2368.0" stroke="#DADBDF" stroke-width="2" />
<path d="M287.8,2368.0 L1584.8,2368.0 L1597.2,2366.3 L1642.3,2351.0 L1655.3,2346.6 L1697.6,2330.2 L1751.1,2312.2 L1779.3,2303.1 L1795.1,2299.2 L1808.7,2297.5 L1950.2,2297.5 L1950.2,2368.0 L287.8,2368.0 Z" fill="#3EA0A5" fill-opacity="0.2"/>
<path d="M287.8,2368.0 L1584.8,2368.0 L1597.2,2366.3 L1642.3,2351.0 L1655.3,2346.6 L1697.6,2330.2 L1751.1,2312.2 L1779.3,2303.1 L1795.1,2299.2 L1808.7,2297.5 L1950.2,2297.5" fill="none" stroke="#3EA0A5" stroke-width="2.2" stroke-linejoin="round"/>
<text x="263.1" y="1866.8" font-size="24" fill="#939393" text-anchor="end" textLength="89.6" lengthAdjust="spacingAndGlyphs">5.588GB</text>
<text x="263.1" y="1951.7" font-size="24" fill="#939393" text-anchor="end" textLength="89.6" lengthAdjust="spacingAndGlyphs">4.657GB</text>
<text x="263.1" y="2036.5" font-size="24" fill="#939393" text-anchor="end" textLength="89.6" lengthAdjust="spacingAndGlyphs">3.725GB</text>
<text x="263.1" y="2121.4" font-size="24" fill="#939393" text-anchor="end" textLength="89.6" lengthAdjust="spacingAndGlyphs">2.794GB</text>
<text x="263.1" y="2206.3" font-size="24" fill="#939393" text-anchor="end" textLength="89.6" lengthAdjust="spacingAndGlyphs">1.863GB</text>
<text x="263.1" y="2291.1" font-size="24" fill="#939393" text-anchor="end" textLength="116.1" lengthAdjust="spacingAndGlyphs">953.674MB</text>
<text x="263.1" y="2376.0" font-size="24" fill="#939393" text-anchor="end" textLength="27.8" lengthAdjust="spacingAndGlyphs">0B</text>
<text x="401.1" y="2399.0" font-size="24" fill="#939393" text-anchor="middle" textLength="92.0" lengthAdjust="spacingAndGlyphs">20:20:00</text>
<text x="541.9" y="2399.0" font-size="24" fill="#939393" text-anchor="middle" textLength="92.0" lengthAdjust="spacingAndGlyphs">20:25:00</text>
<text x="682.6" y="2399.0" font-size="24" fill="#939393" text-anchor="middle" textLength="92.0" lengthAdjust="spacingAndGlyphs">20:30:00</text>
<text x="823.4" y="2399.0" font-size="24" fill="#939393" text-anchor="middle" textLength="92.0" lengthAdjust="spacingAndGlyphs">20:35:00</text>
<text x="964.1" y="2399.0" font-size="24" fill="#939393" text-anchor="middle" textLength="92.0" lengthAdjust="spacingAndGlyphs">20:40:00</text>
<text x="1104.9" y="2399.0" font-size="24" fill="#939393" text-anchor="middle" textLength="92.0" lengthAdjust="spacingAndGlyphs">20:45:00</text>
<text x="1245.7" y="2399.0" font-size="24" fill="#939393" text-anchor="middle" textLength="92.0" lengthAdjust="spacingAndGlyphs">20:50:00</text>
<text x="1386.4" y="2399.0" font-size="24" fill="#939393" text-anchor="middle" textLength="92.0" lengthAdjust="spacingAndGlyphs">20:55:00</text>
<text x="1527.2" y="2399.0" font-size="24" fill="#939393" text-anchor="middle" textLength="92.0" lengthAdjust="spacingAndGlyphs">21:00:00</text>
<text x="1667.9" y="2399.0" font-size="24" fill="#939393" text-anchor="middle" textLength="92.0" lengthAdjust="spacingAndGlyphs">21:05:00</text>
<text x="1808.7" y="2399.0" font-size="24" fill="#939393" text-anchor="middle" textLength="92.0" lengthAdjust="spacingAndGlyphs">21:10:00</text>
<text x="1951.3" y="2399.0" font-size="24" fill="#939393" text-anchor="middle" textLength="92.0" lengthAdjust="spacingAndGlyphs">21:15:00</text>
<text x="1070.7" y="2432.5" font-size="24" fill="#939393" font-weight="bold" text-anchor="middle" textLength="181.0" lengthAdjust="spacingAndGlyphs">per 30 seconds</text>
<line x1="287.8" y1="1912.9" x2="1950.5" y2="1912.9" stroke="#D2462D" stroke-width="4"/>
<polyline points="2017.4,1869.2 2026.6,1878 2017.4,1886.8" fill="none" stroke="#343741" stroke-width="1.8"/>
<line x1="2046.0" y1="1855.0" x2="2386.0" y2="1855.0" stroke="#C9C9C9" stroke-width="2.2" />
<line x1="2046.0" y1="1906.5" x2="2386.0" y2="1906.5" stroke="#C9C9C9" stroke-width="2.2" />
<line x1="2046.0" y1="1957.0" x2="2386.0" y2="1957.0" stroke="#C9C9C9" stroke-width="2.2" />
<circle cx="2070" cy="1881.8" r="8" fill="#D2462D"/>
<text x="2094.5" y="1887.5" font-size="25.2" fill="#343741" textLength="53.9" lengthAdjust="spacingAndGlyphs">Total</text>
<text x="2377.5" y="1887.5" font-size="25.2" fill="#404040" font-weight="bold" text-anchor="end" textLength="52.7" lengthAdjust="spacingAndGlyphs">5GB</text>
<circle cx="2070" cy="1932.8" r="8" fill="#3EA0A5"/>
<text x="2094.5" y="1938.5" font-size="25.2" fill="#343741" textLength="59.6" lengthAdjust="spacingAndGlyphs">Used</text>
<text x="2377.5" y="1938.5" font-size="25.2" fill="#404040" font-weight="bold" text-anchor="end" textLength="132.5" lengthAdjust="spacingAndGlyphs">784.837MB</text>
<line x1="2537.0" y1="1858.7" x2="4491.0" y2="1858.7" stroke="#DADBDF" stroke-width="2" />
<line x1="2537.0" y1="1986.0" x2="4491.0" y2="1986.0" stroke="#DADBDF" stroke-width="2" />
<line x1="2537.0" y1="2113.2" x2="4491.0" y2="2113.2" stroke="#DADBDF" stroke-width="2" />
<line x1="2537.0" y1="2240.5" x2="4491.0" y2="2240.5" stroke="#DADBDF" stroke-width="2" />
<line x1="2537.0" y1="2367.8" x2="4491.0" y2="2367.8" stroke="#DADBDF" stroke-width="2" />
<line x1="2684.7" y1="1858.7" x2="2684.7" y2="2367.8" stroke="#DADBDF" stroke-width="2" />
<line x1="2848.9" y1="1858.7" x2="2848.9" y2="2367.8" stroke="#DADBDF" stroke-width="2" />
<line x1="3013.1" y1="1858.7" x2="3013.1" y2="2367.8" stroke="#DADBDF" stroke-width="2" />
<line x1="3177.3" y1="1858.7" x2="3177.3" y2="2367.8" stroke="#DADBDF" stroke-width="2" />
<line x1="3341.5" y1="1858.7" x2="3341.5" y2="2367.8" stroke="#DADBDF" stroke-width="2" />
<line x1="3505.7" y1="1858.7" x2="3505.7" y2="2367.8" stroke="#DADBDF" stroke-width="2" />
<line x1="3669.9" y1="1858.7" x2="3669.9" y2="2367.8" stroke="#DADBDF" stroke-width="2" />
<line x1="3834.1" y1="1858.7" x2="3834.1" y2="2367.8" stroke="#DADBDF" stroke-width="2" />
<line x1="3998.3" y1="1858.7" x2="3998.3" y2="2367.8" stroke="#DADBDF" stroke-width="2" />
<line x1="4162.5" y1="1858.7" x2="4162.5" y2="2367.8" stroke="#DADBDF" stroke-width="2" />
<line x1="4326.7" y1="1858.7" x2="4326.7" y2="2367.8" stroke="#DADBDF" stroke-width="2" />
<line x1="4491.0" y1="1858.7" x2="4491.0" y2="2367.8" stroke="#DADBDF" stroke-width="2" />
<line x1="2537.0" y1="1858.7" x2="2537.0" y2="2367.8" stroke="#DADBDF" stroke-width="2" />
<line x1="4491.0" y1="1858.7" x2="4491.0" y2="2367.8" stroke="#DADBDF" stroke-width="2" />
<text x="2527.0" y="1866.7" font-size="24" fill="#939393" text-anchor="end" textLength="12.6" lengthAdjust="spacingAndGlyphs">1</text>
<text x="2527.0" y="1994.0" font-size="24" fill="#939393" text-anchor="end" textLength="31.6" lengthAdjust="spacingAndGlyphs">0.5</text>
<text x="2527.0" y="2121.2" font-size="24" fill="#939393" text-anchor="end" textLength="12.6" lengthAdjust="spacingAndGlyphs">0</text>
<text x="2527.0" y="2248.5" font-size="24" fill="#939393" text-anchor="end" textLength="39.1" lengthAdjust="spacingAndGlyphs">-0.5</text>
<text x="2527.0" y="2375.8" font-size="24" fill="#939393" text-anchor="end" textLength="20.2" lengthAdjust="spacingAndGlyphs">-1</text>
<text x="2684.7" y="2398.8" font-size="24" fill="#939393" text-anchor="middle" textLength="92.0" lengthAdjust="spacingAndGlyphs">20:20:00</text>
<text x="2848.9" y="2398.8" font-size="24" fill="#939393" text-anchor="middle" textLength="92.0" lengthAdjust="spacingAndGlyphs">20:25:00</text>
<text x="3013.1" y="2398.8" font-size="24" fill="#939393" text-anchor="middle" textLength="92.0" lengthAdjust="spacingAndGlyphs">20:30:00</text>
<text x="3177.3" y="2398.8" font-size="24" fill="#939393" text-anchor="middle" textLength="92.0" lengthAdjust="spacingAndGlyphs">20:35:00</text>
<text x="3341.5" y="2398.8" font-size="24" fill="#939393" text-anchor="middle" textLength="92.0" lengthAdjust="spacingAndGlyphs">20:40:00</text>
<text x="3505.7" y="2398.8" font-size="24" fill="#939393" text-anchor="middle" textLength="92.0" lengthAdjust="spacingAndGlyphs">20:45:00</text>
<text x="3669.9" y="2398.8" font-size="24" fill="#939393" text-anchor="middle" textLength="92.0" lengthAdjust="spacingAndGlyphs">20:50:00</text>
<text x="3834.1" y="2398.8" font-size="24" fill="#939393" text-anchor="middle" textLength="92.0" lengthAdjust="spacingAndGlyphs">20:55:00</text>
<text x="3998.3" y="2398.8" font-size="24" fill="#939393" text-anchor="middle" textLength="92.0" lengthAdjust="spacingAndGlyphs">21:00:00</text>
<text x="4162.5" y="2398.8" font-size="24" fill="#939393" text-anchor="middle" textLength="92.0" lengthAdjust="spacingAndGlyphs">21:05:00</text>
<text x="4326.7" y="2398.8" font-size="24" fill="#939393" text-anchor="middle" textLength="92.0" lengthAdjust="spacingAndGlyphs">21:10:00</text>
<text x="4491.0" y="2398.8" font-size="24" fill="#939393" text-anchor="middle" textLength="92.0" lengthAdjust="spacingAndGlyphs">21:15:00</text>
<text x="3509.5" y="2432.3" font-size="24" fill="#939393" font-weight="bold" text-anchor="middle" textLength="181.0" lengthAdjust="spacingAndGlyphs">per 30 seconds</text>
<line x1="2569.7" y1="2113.3" x2="4491" y2="2113.3" stroke="#3B86F2" stroke-width="2.2"/>
<polyline points="4557.4,1869.2 4566.6,1878 4557.4,1886.8" fill="none" stroke="#343741" stroke-width="1.8"/>
<line x1="4586.0" y1="1855.0" x2="4926.0" y2="1855.0" stroke="#C9C9C9" stroke-width="2.2" />
<line x1="4586.0" y1="1906.5" x2="4926.0" y2="1906.5" stroke="#C9C9C9" stroke-width="2.2" />
<line x1="4586.0" y1="1957.0" x2="4926.0" y2="1957.0" stroke="#C9C9C9" stroke-width="2.2" />
<line x1="4586.0" y1="2008.5" x2="4926.0" y2="2008.5" stroke="#C9C9C9" stroke-width="2.2" />
<circle cx="4610" cy="1881.8" r="8" fill="#3B86F2"/>
<text x="4634.5" y="1887.5" font-size="25.2" fill="#343741" textLength="51.1" lengthAdjust="spacingAndGlyphs">read</text>
<text x="4917.5" y="1887.5" font-size="25.2" fill="#404040" font-weight="bold" text-anchor="end" textLength="14.3" lengthAdjust="spacingAndGlyphs">0</text>
<circle cx="4610" cy="1932.8" r="8" fill="#D03672"/>
<text x="4634.5" y="1938.5" font-size="25.2" fill="#343741" textLength="53.9" lengthAdjust="spacingAndGlyphs">write</text>
<text x="4917.5" y="1938.5" font-size="25.2" fill="#404040" font-weight="bold" text-anchor="end" textLength="14.3" lengthAdjust="spacingAndGlyphs">0</text>
<circle cx="4610" cy="1983.8" r="8" fill="#48ACA0"/>
<text x="4634.5" y="1989.5" font-size="25.2" fill="#343741" textLength="69.5" lengthAdjust="spacingAndGlyphs">delete</text>
<text x="4917.5" y="1989.5" font-size="25.2" fill="#404040" font-weight="bold" text-anchor="end" textLength="14.3" lengthAdjust="spacingAndGlyphs">0</text>
<line x1="0.0" y1="186.5" x2="94.0" y2="186.5" stroke="#D3DAE6" stroke-width="2" />
<rect x="14.5" y="364.0" width="63.5" height="64.0" rx="8" fill="#F5F7FA" />
<g fill="none" stroke="#343741" stroke-width="2"><circle cx="45" cy="137" r="12.2"/><polyline points="45,129 45,138 52,138"/></g>
<g fill="none" stroke="#343741" stroke-width="2"><circle cx="46" cy="236" r="15.2"/><line x1="46" y1="221" x2="46" y2="224"/><line x1="46" y1="248" x2="46" y2="251"/><line x1="31" y1="236" x2="34" y2="236"/><line x1="58" y1="236" x2="61" y2="236"/></g>
<path d="M39,244 L44,233 L53,228 L48,239 Z" fill="none" stroke="#1F8275" stroke-width="2"/>
<polyline points="31,300 31,330 62,330" fill="none" stroke="#1F8275" stroke-width="2"/>
<g fill="none" stroke="#343741" stroke-width="2"><line x1="37" y1="317" x2="37" y2="326"/><line x1="47" y1="307" x2="47" y2="326"/><line x1="57" y1="313" x2="57" y2="326"/><polyline points="37,312 47,303.7 57,308.7"/><circle cx="37" cy="312" r="2.6" fill="#fff"/><circle cx="47" cy="303.7" r="2.6" fill="#fff"/><circle cx="57" cy="308.7" r="2.6" fill="#fff"/></g>
<g fill="none" stroke-width="2"><rect x="31" y="381" width="30" height="7" rx="1.5" stroke="#343741"/><rect x="31" y="392" width="13" height="7" rx="1.5" stroke="#343741"/><rect x="31" y="403" width="13" height="8" rx="1.5" stroke="#343741"/><rect x="48" y="392" width="13" height="19" rx="1.5" stroke="#1F8275"/></g>
<g fill="none" stroke="#343741" stroke-width="2"><path d="M31,467.5 Q38.5,470 46,467.5 Q53.5,465 61,467.5 Q58.5,479 61,490.5 Q53.5,488 46,490.5 Q38.5,493 31,490.5 Q33.5,479 31,467.5 Z"/><polyline points="40.2,467.3 45.5,461.5 50.8,467.3"/></g>
<g stroke="#1F8275" stroke-width="2"><line x1="37.5" y1="478" x2="37.5" y2="484"/><line x1="42" y1="475" x2="42" y2="484"/><line x1="46" y1="476.5" x2="46" y2="484"/><line x1="51" y1="476" x2="54" y2="476"/><line x1="51" y1="480" x2="54" y2="480"/><line x1="51" y1="484" x2="54" y2="484"/></g>
<g fill="none" stroke="#343741" stroke-width="2"><path d="M46,562 C40,555 38,551 38,547 A8,8 0 0 1 54,547 C54,551 52,555 46,562 Z"/><circle cx="46" cy="547" r="3"/></g>
<g fill="none" stroke="#1F8275" stroke-width="2"><polyline points="38,556 31,560 46,567 61,560 54,556"/><polyline points="31,565 46,572 61,565"/></g>
<g fill="none" stroke="#343741" stroke-width="2"><circle cx="41.2" cy="622.5" r="2.4"/><circle cx="50.8" cy="622.5" r="2.4"/><circle cx="41.2" cy="633" r="2.4"/><circle cx="50.8" cy="633" r="2.4"/><circle cx="41.2" cy="648.5" r="2.4"/><circle cx="50.8" cy="648.5" r="2.4"/></g>
<g fill="none" stroke="#1F8275" stroke-width="2"><path d="M36.5,620.5 Q32.5,622 32.5,627 V637.5 L37.5,641.5 M34,641.5 H37.5 V638"/><path d="M55.5,620.5 Q59.5,622 59.5,627 V637.5 L54.5,641.5 M58,641.5 H54.5 V638"/></g>
<g fill="none" stroke="#343741" stroke-width="2"><path d="M35.5,723 A6.5,6.5 0 0 1 35,710.5 A10,10 0 0 1 55.5,711.5"/><rect x="39.5" y="715" width="21" height="16"/><line x1="39.5" y1="723" x2="60.5" y2="723"/></g>
<g stroke="#1F8275" stroke-width="2"><line x1="43" y1="719" x2="46.7" y2="719"/><line x1="43" y1="727" x2="46.7" y2="727"/></g>
<g fill="none" stroke="#343741" stroke-width="2"><path d="M36,810 L36,783 Q36,780 40,780 L58,780 Q62,780 62,784 L57,784 L57,810 Q57,813 53,813 L33,813 Q30,813 30,809 L30,807 L36,807"/></g>
<g stroke="#1F8275" stroke-width="2"><line x1="41" y1="788" x2="52" y2="788"/><line x1="41" y1="793" x2="52" y2="793"/><line x1="41" y1="798" x2="52" y2="798"/><line x1="41" y1="803" x2="52" y2="803"/></g>
<g fill="none" stroke="#343741" stroke-width="2"><polyline points="35,869 31,869 31,861 61,861 61,869"/><polyline points="47,885 47,891 61,891 61,885"/></g>
<path d="M39,869 L61,869 L59,877 Q57,881 53,881 L39,881 Z" fill="none" stroke="#1F8275" stroke-width="2"/>
<g fill="none" stroke="#343741" stroke-width="2"><path d="M31,957 A15,15 0 0 0 61,957 L61,944"/><polyline points="56,949 61,943 66,949"/><polyline points="39,957 44,962 52,952"/></g>
<path d="M31,955 A15,15 0 0 1 48,942" fill="none" stroke="#343741" stroke-width="2" stroke-dasharray="4 3"/>
<g fill="none" stroke="#343741" stroke-width="2"><rect x="32" y="1030" width="28" height="19" rx="2"/><path d="M37,1030 L37,1024 A9,9 0 0 1 55,1024 L55,1030"/><line x1="40" y1="1036" x2="40" y2="1043"/><line x1="46" y1="1036" x2="46" y2="1043"/><line x1="52" y1="1036" x2="52" y2="1043"/></g>
<g fill="none" stroke="#1F8275" stroke-width="2"><circle cx="46" cy="1102" r="2.8"/><circle cx="54" cy="1116" r="2.8"/><circle cx="46" cy="1127" r="2.8"/><line x1="38" y1="1116" x2="51" y2="1116"/><line x1="38" y1="1116" x2="44" y2="1105"/><line x1="38" y1="1116" x2="44" y2="1125"/></g>
<circle cx="38" cy="1116" r="2.8" fill="none" stroke="#343741" stroke-width="2"/>
<g fill="none" stroke="#343741" stroke-width="2"><path d="M40,1182 A10,10 0 0 0 43,1201 L43,1210 L49,1210 L49,1201 A10,10 0 0 0 52,1182 L52,1192 L40,1192 Z"/></g>
<line x1="41" y1="1213" x2="51" y2="1213" stroke="#1F8275" stroke-width="2"/>
<g fill="none" stroke="#343741" stroke-width="2"><path d="M34,1281 L33,1279 A8,8 0 0 1 46,1268 A8,8 0 0 1 59,1279 L58,1281"/><polyline points="38,1285 46,1292 54,1285"/></g>
<polyline points="30,1280 38,1280 41,1274 46,1287 50,1277 52,1280 62,1280" fill="none" stroke="#1F8275" stroke-width="2"/>
<path d="M42.2,1341.9 L49.8,1341.9 L51.3,1347.8 L57.2,1346.2 L61.0,1352.7 L56.6,1357.0 L61.0,1361.3 L57.2,1367.8 L51.3,1366.2 L49.8,1372.1 L42.2,1372.1 L40.7,1366.2 L34.8,1367.8 L31.0,1361.3 L35.4,1357.0 L31.0,1352.7 L34.8,1346.2 L40.7,1347.8 Z" fill="none" stroke="#343741" stroke-width="2.2" stroke-linejoin="round"/>
<circle cx="46" cy="1357" r="5.5" fill="none" stroke="#1F8275" stroke-width="2.2"/>
<line x1="94.0" y1="2489.5" x2="0.0" y2="2489.5" stroke="#E6E9EE" stroke-width="1.5" />
<g fill="none" stroke="#343741" stroke-width="2.2"><line x1="32" y1="2521" x2="48" y2="2521"/><line x1="32" y1="2529" x2="59" y2="2529"/><line x1="32" y1="2537" x2="48" y2="2537"/><polyline points="53,2522 60,2529 53,2536"/></g>
</svg>
</body></html>
